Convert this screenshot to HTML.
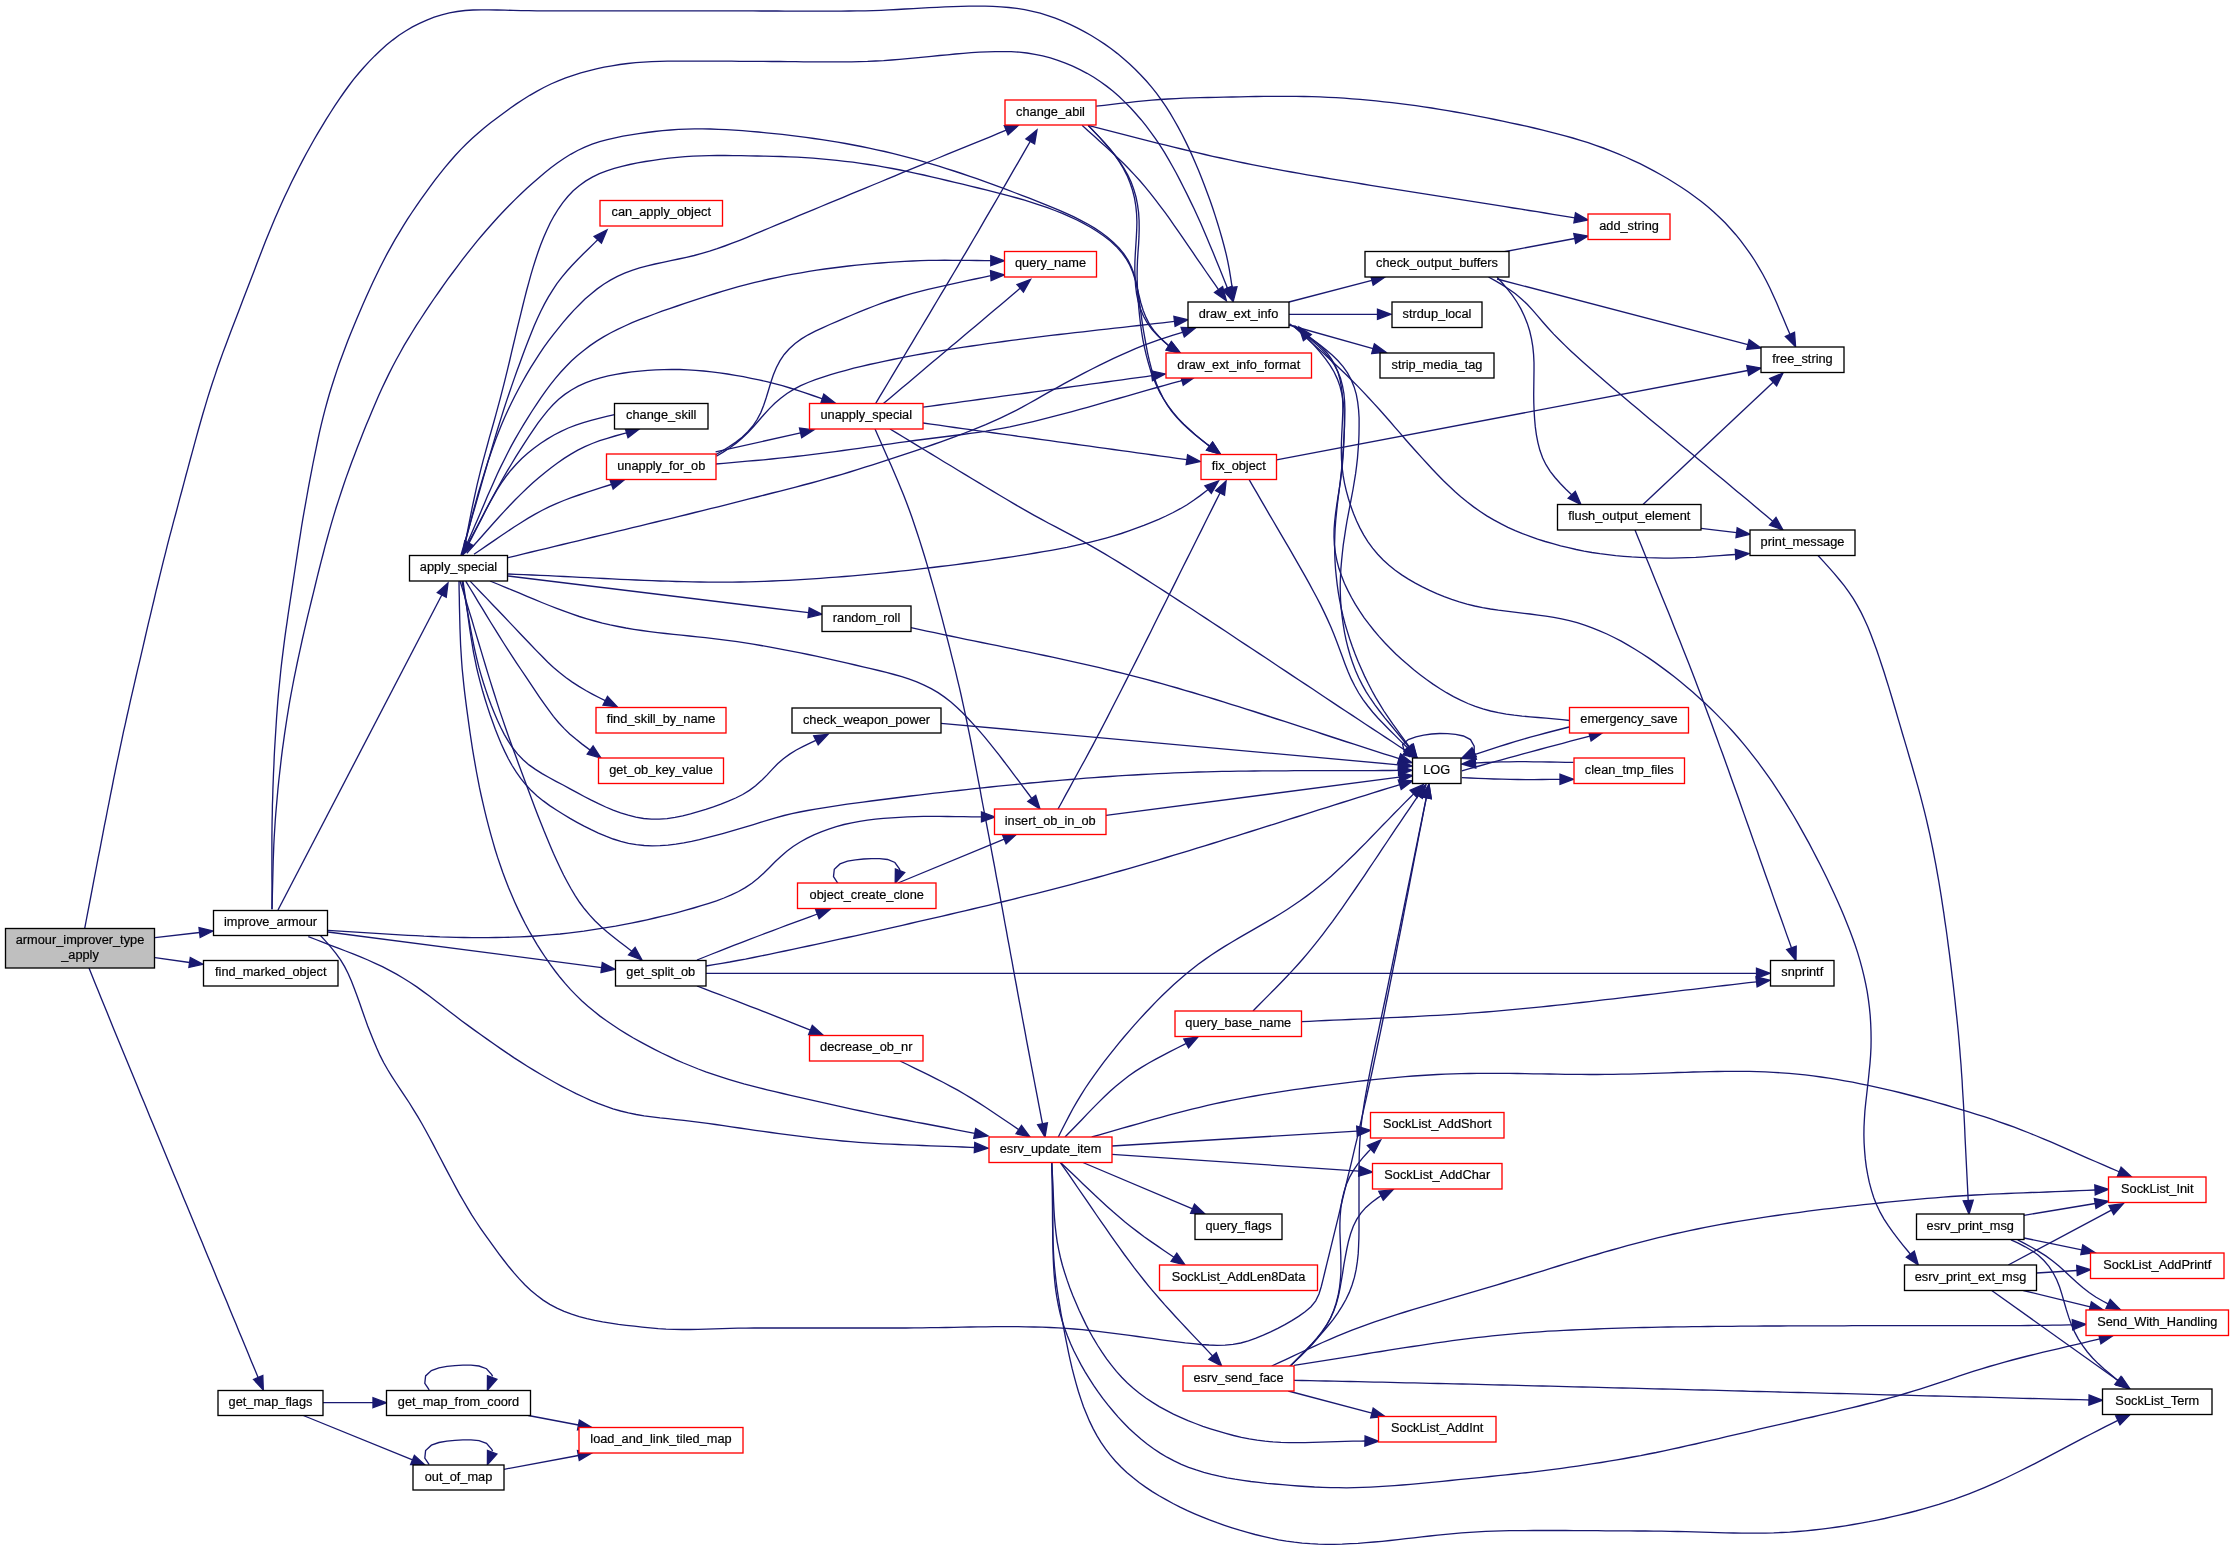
<!DOCTYPE html><html><head><meta charset="utf-8"><style>html,body{margin:0;padding:0;background:#fff;overflow:hidden}svg{display:block}text{font-family:"Liberation Sans",sans-serif;font-size:13.30px;fill:#000;stroke:#000;stroke-width:0.22px}</style></head><body>
<svg xmlns="http://www.w3.org/2000/svg" width="2235" height="1547" viewBox="0 0 2235 1547">
<rect width="2235" height="1547" fill="#fff"/>
<g fill="none" stroke="#191970" stroke-width="1.33">
<path d="M155.0,937.7 L199.6,932.5"/>
<path d="M155.0,957.7 L189.6,962.5"/>
<path d="M89.0,968.0 L92.0,975.4 95.0,982.9 98.0,990.3 101.0,997.7 104.1,1005.2 107.1,1012.6 110.1,1020.0 113.1,1027.4 116.2,1034.9 119.2,1042.3 122.3,1049.7 125.3,1057.1 128.4,1064.5 131.5,1071.9 134.5,1079.3 137.6,1086.8 140.6,1094.2 143.7,1101.6 146.8,1109.0 149.8,1116.4 152.9,1123.8 156.0,1131.2 159.0,1138.6 162.1,1146.0 165.2,1153.4 168.3,1160.9 171.3,1168.3 174.4,1175.7 177.5,1183.1 180.6,1190.5 183.6,1197.9 186.7,1205.3 189.8,1212.7 192.8,1220.1 195.9,1227.5 199.0,1234.9 202.1,1242.3 205.1,1249.7 208.2,1257.2 211.3,1264.6 214.4,1272.0 217.4,1279.4 220.5,1286.8 223.6,1294.2 226.7,1301.6 229.7,1309.0 232.8,1316.4 235.9,1323.8 238.9,1331.2 242.0,1338.6 245.1,1346.0 248.2,1353.5 251.2,1360.9 254.3,1368.3 257.4,1375.7 258.1,1377.5"/>
<path d="M84.7,928.4 L86.2,920.5 87.7,912.7 89.2,904.8 90.7,897.0 92.2,889.1 93.7,881.2 95.2,873.4 96.7,865.5 98.2,857.6 99.8,849.8 101.3,841.9 102.8,834.1 104.3,826.2 105.9,818.4 107.4,810.5 109.0,802.7 110.5,794.8 112.1,787.0 113.6,779.1 115.2,771.3 116.8,763.4 118.5,755.6 120.1,747.8 121.8,739.9 123.4,732.1 125.2,724.3 126.9,716.5 128.7,708.7 130.4,700.9 132.2,693.1 134.0,685.3 135.8,677.5 137.6,669.7 139.5,661.9 141.3,654.1 143.1,646.3 144.9,638.5 146.7,630.7 148.5,622.9 150.4,615.1 152.2,607.3 154.1,599.5 155.9,591.7 157.8,584.0 159.7,576.2 161.6,568.4 163.5,560.6 165.5,552.9 167.4,545.1 169.4,537.4 171.5,529.6 173.5,521.9 175.6,514.2 177.7,506.4 179.7,498.7 181.8,491.0 183.9,483.2 185.9,475.5 188.0,467.8 190.1,460.0 192.2,452.3 194.3,444.6 196.4,436.9 198.5,429.2 200.7,421.5 202.9,413.8 205.2,406.1 207.5,398.4 209.9,390.8 212.3,383.2 214.9,375.6 217.4,368.0 220.1,360.5 222.8,352.9 225.6,345.4 228.4,337.9 231.2,330.5 234.1,323.0 237.0,315.5 239.9,308.1 242.7,300.6 245.6,293.1 248.5,285.6 251.3,278.2 254.2,270.7 257.0,263.2 259.9,255.7 262.8,248.3 265.7,240.8 268.7,233.4 271.8,226.0 274.9,218.6 278.1,211.3 281.3,204.0 284.6,196.7 288.1,189.5 291.5,182.3 295.1,175.1 298.7,168.0 302.4,160.9 306.2,153.8 310.1,146.8 314.0,139.8 318.0,132.9 322.1,126.1 326.3,119.2 330.5,112.5 334.9,105.7 339.3,99.1 343.9,92.5 348.6,86.0 353.4,79.7 358.5,73.5 363.7,67.5 369.1,61.6 374.7,55.9 380.4,50.4 386.4,45.1 392.6,40.1 399.0,35.3 405.6,31.0 412.5,26.9 419.5,23.3 426.8,20.1 434.2,17.2 441.7,14.8 449.4,12.9 457.2,11.5 465.1,10.5 473.0,10.0 481.0,9.8 489.0,9.8 497.0,10.0 505.0,10.2 513.0,10.4 521.0,10.6 529.0,10.7 537.0,10.8 545.0,10.8 553.0,10.8 561.0,10.8 569.0,10.8 577.0,10.8 585.0,10.8 593.0,10.8 601.0,10.8 609.0,10.8 617.0,10.8 625.0,10.8 633.0,10.8 641.0,10.8 649.0,10.8 657.0,10.8 665.0,10.8 673.0,10.8 681.0,10.8 689.0,10.8 697.0,10.8 705.0,10.8 713.0,10.8 721.0,10.8 729.1,10.8 737.1,10.9 745.1,10.9 753.1,10.9 761.1,11.0 769.1,11.0 777.1,11.0 785.1,11.1 793.1,11.1 801.1,11.1 809.1,11.2 817.1,11.2 825.1,11.2 833.1,11.2 841.1,11.1 849.1,11.0 857.1,10.9 865.1,10.8 873.1,10.6 881.1,10.3 889.1,9.9 897.1,9.5 905.1,9.0 913.1,8.6 921.1,8.1 929.1,7.7 937.0,7.3 945.0,6.9 953.0,6.6 961.0,6.3 969.0,6.1 977.0,6.1 985.0,6.2 993.0,6.4 1001.0,6.8 1008.9,7.5 1016.9,8.4 1024.7,9.7 1032.5,11.3 1040.2,13.2 1047.8,15.6 1055.3,18.2 1062.7,21.2 1070.0,24.4 1077.2,27.9 1084.3,31.6 1091.2,35.5 1098.0,39.7 1104.7,44.1 1111.2,48.8 1117.5,53.6 1123.6,58.7 1129.6,64.0 1135.4,69.5 1141.0,75.2 1146.4,81.0 1151.6,87.1 1156.6,93.3 1161.3,99.8 1165.8,106.4 1170.1,113.1 1174.1,120.0 1178.0,126.9 1181.8,134.0 1185.4,141.1 1188.9,148.4 1192.2,155.6 1195.4,162.9 1198.5,170.3 1201.5,177.7 1204.4,185.2 1207.2,192.7 1210.0,200.2 1212.6,207.8 1215.1,215.4 1217.5,223.0 1219.8,230.6 1222.0,238.3 1224.1,246.0 1226.1,253.8 1227.8,261.6 1229.3,269.4 1230.6,277.3 1231.8,285.2 1232.1,287.2"/>
<path d="M272.0,909.3 L272.0,901.3 272.0,893.3 272.0,885.3 271.9,877.3 271.9,869.3 271.9,861.3 271.9,853.3 271.9,845.3 271.9,837.3 272.0,829.3 272.1,821.3 272.3,813.3 272.4,805.3 272.7,797.3 272.9,789.3 273.2,781.3 273.5,773.3 273.9,765.3 274.2,757.3 274.6,749.3 275.1,741.3 275.6,733.3 276.1,725.3 276.6,717.4 277.2,709.4 277.8,701.4 278.5,693.4 279.3,685.5 280.1,677.5 280.9,669.5 281.8,661.6 282.8,653.7 283.8,645.7 284.8,637.8 285.9,629.9 287.1,621.9 288.2,614.0 289.4,606.1 290.6,598.2 291.8,590.3 293.0,582.4 294.2,574.5 295.4,566.5 296.6,558.6 297.8,550.7 299.0,542.8 300.3,534.9 301.5,527.0 302.8,519.1 304.2,511.2 305.6,503.3 307.0,495.5 308.4,487.6 309.9,479.7 311.4,471.9 312.9,464.0 314.5,456.2 316.1,448.3 317.7,440.5 319.4,432.7 321.2,424.9 323.1,417.1 325.1,409.4 327.2,401.7 329.4,394.0 331.8,386.3 334.2,378.7 336.7,371.1 339.3,363.5 342.1,356.0 344.9,348.5 347.7,341.1 350.7,333.6 353.7,326.2 356.8,318.8 359.9,311.5 363.1,304.1 366.3,296.8 369.6,289.5 372.9,282.2 376.4,275.0 379.9,267.8 383.5,260.7 387.2,253.6 391.1,246.6 395.0,239.6 399.1,232.8 403.3,225.9 407.5,219.2 411.9,212.5 416.4,205.9 420.9,199.3 425.6,192.8 430.3,186.3 435.1,179.9 440.0,173.6 445.0,167.4 450.2,161.3 455.4,155.3 460.9,149.4 466.5,143.8 472.3,138.3 478.3,133.0 484.4,127.8 490.6,122.8 497.0,118.0 503.4,113.2 509.8,108.5 516.4,103.9 523.1,99.5 529.8,95.3 536.7,91.3 543.8,87.5 550.9,84.0 558.2,80.8 565.7,77.9 573.2,75.3 580.8,72.9 588.5,70.8 596.3,68.9 604.1,67.2 611.9,65.8 619.8,64.5 627.7,63.5 635.7,62.7 643.6,62.1 651.6,61.6 659.6,61.4 667.6,61.2 675.6,61.2 683.6,61.1 691.6,61.1 699.6,61.1 707.6,61.2 715.6,61.2 723.6,61.2 731.6,61.2 739.6,61.3 747.6,61.3 755.6,61.4 763.6,61.4 771.6,61.5 779.6,61.5 787.6,61.6 795.6,61.7 803.6,61.8 811.6,61.8 819.6,61.9 827.6,61.9 835.6,61.9 843.6,61.9 851.6,61.8 859.6,61.6 867.6,61.4 875.6,61.0 883.6,60.6 891.6,60.0 899.6,59.3 907.5,58.6 915.5,57.8 923.5,57.1 931.4,56.3 939.4,55.5 947.4,54.8 955.3,54.0 963.3,53.3 971.3,52.7 979.3,52.2 987.2,51.8 995.2,51.6 1003.2,51.6 1011.2,51.7 1019.1,52.2 1027.0,53.0 1034.9,54.3 1042.7,55.9 1050.4,57.9 1057.9,60.3 1065.4,63.1 1072.7,66.2 1079.9,69.6 1087.0,73.3 1093.8,77.3 1100.5,81.7 1106.9,86.4 1113.1,91.3 1119.1,96.6 1124.9,102.1 1130.5,107.8 1135.9,113.7 1141.1,119.7 1146.1,125.9 1150.9,132.3 1155.6,138.8 1160.0,145.4 1164.3,152.2 1168.4,159.1 1172.3,166.0 1176.2,173.0 1179.9,180.1 1183.5,187.2 1187.1,194.4 1190.6,201.6 1194.1,208.8 1197.4,216.0 1200.7,223.3 1203.9,230.7 1207.0,238.0 1210.1,245.4 1213.2,252.8 1216.2,260.2 1219.2,267.6 1222.2,275.1 1225.2,282.5 1227.4,288.1"/>
<path d="M272.0,909.3 L272.2,901.3 272.4,893.3 272.6,885.3 272.8,877.3 273.0,869.3 273.2,861.3 273.5,853.3 273.8,845.3 274.2,837.3 274.7,829.3 275.2,821.3 275.8,813.4 276.5,805.4 277.2,797.4 277.9,789.5 278.7,781.5 279.6,773.5 280.5,765.6 281.4,757.6 282.4,749.7 283.5,741.8 284.6,733.8 285.8,725.9 287.0,718.0 288.3,710.1 289.6,702.2 291.0,694.4 292.5,686.5 294.0,678.6 295.6,670.8 297.2,663.0 298.9,655.1 300.6,647.3 302.3,639.5 304.1,631.7 305.9,623.9 307.7,616.1 309.6,608.3 311.5,600.5 313.4,592.8 315.3,585.0 317.2,577.2 319.1,569.5 321.1,561.7 323.1,554.0 325.1,546.2 327.2,538.5 329.3,530.8 331.5,523.1 333.8,515.4 336.1,507.8 338.6,500.1 341.1,492.5 343.6,485.0 346.2,477.4 348.9,469.9 351.7,462.3 354.5,454.9 357.3,447.4 360.3,439.9 363.2,432.5 366.2,425.1 369.3,417.7 372.4,410.3 375.5,402.9 378.7,395.6 382.0,388.3 385.4,381.1 388.9,373.9 392.5,366.7 396.2,359.7 400.1,352.7 404.0,345.7 408.1,338.8 412.3,332.0 416.5,325.2 420.9,318.5 425.2,311.8 429.7,305.1 434.2,298.5 438.8,292.0 443.4,285.4 448.0,278.9 452.8,272.5 457.6,266.1 462.4,259.7 467.3,253.4 472.3,247.1 477.3,240.9 482.5,234.8 487.7,228.7 493.0,222.7 498.4,216.8 503.8,211.0 509.4,205.2 515.0,199.6 520.8,194.0 526.6,188.5 532.5,183.2 538.6,177.9 544.7,172.7 550.9,167.8 557.3,163.0 563.9,158.5 570.6,154.3 577.6,150.5 584.8,147.1 592.1,144.2 599.7,141.7 607.3,139.6 615.1,137.8 622.9,136.2 630.8,134.9 638.7,133.6 646.6,132.5 654.6,131.5 662.5,130.7 670.5,130.0 678.4,129.4 686.4,129.1 694.4,128.9 702.4,128.9 710.4,129.0 718.4,129.3 726.4,129.7 734.4,130.2 742.4,130.7 750.3,131.3 758.3,132.0 766.3,132.8 774.2,133.6 782.2,134.4 790.1,135.3 798.1,136.3 806.0,137.4 813.9,138.5 821.9,139.6 829.8,140.9 837.7,142.2 845.5,143.5 853.4,145.0 861.3,146.5 869.1,148.1 876.9,149.8 884.7,151.5 892.5,153.4 900.3,155.3 908.0,157.3 915.7,159.4 923.4,161.6 931.1,163.9 938.8,166.2 946.4,168.6 954.0,171.0 961.6,173.5 969.2,176.1 976.8,178.7 984.3,181.4 991.9,184.1 999.4,186.8 1006.9,189.6 1014.3,192.5 1021.8,195.3 1029.3,198.2 1036.7,201.2 1044.2,204.1 1051.6,207.1 1058.9,210.2 1066.3,213.4 1073.5,216.7 1080.7,220.3 1087.7,224.0 1094.6,228.1 1101.2,232.5 1107.5,237.2 1113.5,242.4 1119.0,247.9 1123.9,253.9 1128.1,260.4 1131.5,267.3 1134.2,274.6 1136.1,282.2 1137.6,290.0 1138.8,297.8 1139.9,305.7 1141.0,313.7 1142.1,321.6 1143.3,329.5 1144.7,337.4 1146.1,345.2 1147.6,353.1 1149.4,360.9 1151.4,368.6 1153.8,376.2 1156.5,383.7 1159.6,390.9 1163.1,398.0 1167.2,404.8 1171.7,411.3 1176.7,417.4 1182.1,423.1 1187.9,428.6 1193.9,433.8 1200.1,438.8 1206.4,443.7 1209.6,446.1"/>
<path d="M278.0,910.0 L441.8,595.0"/>
<path d="M328.0,930.3 L336.0,930.8 344.0,931.3 352.0,931.8 360.0,932.3 368.0,932.8 376.0,933.3 384.0,933.8 392.0,934.3 400.0,934.8 408.0,935.3 416.0,935.7 424.0,936.2 432.0,936.5 440.0,936.9 448.0,937.1 456.0,937.4 464.0,937.5 472.0,937.6 480.1,937.6 488.1,937.6 496.1,937.5 504.1,937.4 512.1,937.2 520.1,936.9 528.1,936.5 536.1,936.0 544.1,935.4 552.1,934.7 560.1,934.0 568.0,933.1 576.0,932.1 583.9,931.1 591.8,929.9 599.8,928.7 607.7,927.4 615.6,926.1 623.4,924.6 631.3,923.1 639.2,921.5 647.0,919.8 654.8,918.0 662.6,916.2 670.4,914.3 678.1,912.3 685.9,910.2 693.6,908.0 701.3,905.7 708.9,903.3 716.5,900.8 724.0,898.0 731.3,894.9 738.5,891.5 745.3,887.6 751.9,883.2 758.1,878.3 763.9,873.0 769.5,867.5 775.1,861.8 780.8,856.4 786.8,851.2 793.1,846.5 799.8,842.2 806.7,838.4 813.9,834.9 821.2,831.8 828.7,829.1 836.3,826.6 844.0,824.5 851.8,822.8 859.6,821.3 867.5,820.1 875.4,819.2 883.4,818.4 891.4,817.8 899.4,817.3 907.4,816.9 915.4,816.6 923.4,816.4 931.4,816.4 939.4,816.4 947.4,816.5 955.5,816.6 963.5,816.7 971.5,816.8 979.5,816.9 981.5,816.9"/>
<path d="M328.0,932.0 L601.6,967.6"/>
<path d="M308.3,936.6 L315.8,939.5 323.2,942.4 330.7,945.3 338.2,948.2 345.6,951.0 353.1,953.9 360.5,956.9 367.9,960.0 375.2,963.3 382.4,966.7 389.5,970.3 396.5,974.1 403.4,978.2 410.2,982.5 416.8,986.9 423.3,991.6 429.7,996.3 436.1,1001.2 442.4,1006.1 448.8,1011.0 455.1,1015.8 461.5,1020.7 467.9,1025.4 474.4,1030.1 480.9,1034.8 487.4,1039.4 494.0,1044.0 500.6,1048.6 507.2,1053.1 513.8,1057.6 520.5,1061.9 527.3,1066.2 534.1,1070.4 541.0,1074.5 547.9,1078.5 554.9,1082.5 561.9,1086.3 569.0,1090.0 576.1,1093.6 583.4,1097.0 590.6,1100.3 598.0,1103.4 605.5,1106.2 613.0,1108.8 620.7,1111.0 628.4,1112.9 636.2,1114.5 644.1,1115.8 652.0,1116.9 660.0,1117.9 667.9,1118.7 675.9,1119.6 683.8,1120.4 691.8,1121.4 699.7,1122.4 707.7,1123.4 715.6,1124.5 723.5,1125.7 731.4,1126.8 739.4,1128.0 747.3,1129.1 755.2,1130.3 763.1,1131.4 771.1,1132.5 779.0,1133.6 786.9,1134.7 794.9,1135.7 802.8,1136.7 810.8,1137.7 818.7,1138.6 826.7,1139.4 834.6,1140.2 842.6,1141.0 850.6,1141.7 858.6,1142.3 866.5,1142.8 874.5,1143.3 882.5,1143.8 890.5,1144.2 898.5,1144.5 906.5,1144.9 914.5,1145.2 922.5,1145.5 930.5,1145.8 938.5,1146.1 946.5,1146.4 954.5,1146.7 962.5,1147.0 970.5,1147.4 974.5,1147.5"/>
<path d="M320.0,935.0 L325.4,940.9 330.6,946.9 335.7,953.1 340.4,959.6 344.5,966.4 348.1,973.5 351.3,980.8 354.2,988.2 357.0,995.7 359.7,1003.3 362.3,1010.8 365.0,1018.4 367.7,1025.9 370.6,1033.3 373.6,1040.8 376.7,1048.1 380.0,1055.4 383.6,1062.5 387.6,1069.5 391.8,1076.3 396.1,1083.0 400.5,1089.7 405.0,1096.3 409.4,1103.0 413.6,1109.8 417.8,1116.6 421.8,1123.5 425.7,1130.5 429.5,1137.5 433.3,1144.6 437.0,1151.7 440.7,1158.8 444.4,1165.9 448.1,1172.9 451.9,1180.0 455.7,1187.1 459.5,1194.1 463.5,1201.0 467.5,1207.9 471.7,1214.8 476.0,1221.5 480.4,1228.1 485.0,1234.7 489.7,1241.2 494.4,1247.7 499.1,1254.1 504.0,1260.5 508.9,1266.8 514.0,1272.9 519.3,1278.9 524.8,1284.7 530.6,1290.2 536.7,1295.3 543.1,1300.1 549.8,1304.4 556.9,1308.1 564.1,1311.4 571.6,1314.2 579.2,1316.6 586.9,1318.6 594.7,1320.4 602.6,1321.9 610.5,1323.1 618.4,1324.3 626.3,1325.3 634.3,1326.2 642.2,1327.1 650.2,1327.9 658.2,1328.6 666.1,1329.1 674.1,1329.4 682.1,1329.5 690.1,1329.5 698.1,1329.4 706.1,1329.1 714.1,1328.9 722.1,1328.6 730.1,1328.4 738.1,1328.2 746.1,1328.1 754.1,1328.0 762.1,1328.0 770.1,1328.0 778.1,1328.0 786.1,1328.0 794.1,1328.0 802.1,1328.0 810.1,1328.0 818.1,1328.0 826.1,1328.0 834.1,1328.0 842.1,1328.0 850.1,1328.0 858.1,1328.0 866.1,1328.0 874.1,1328.0 882.1,1328.0 890.1,1328.0 898.1,1328.0 906.1,1328.0 914.1,1327.9 922.1,1327.8 930.1,1327.7 938.1,1327.6 946.1,1327.5 954.1,1327.3 962.1,1327.2 970.1,1327.0 978.1,1326.9 986.1,1326.8 994.1,1326.7 1002.1,1326.7 1010.1,1326.7 1018.1,1326.7 1026.1,1326.8 1034.1,1327.0 1042.1,1327.2 1050.1,1327.5 1058.1,1327.9 1066.1,1328.4 1074.1,1329.0 1082.1,1329.7 1090.0,1330.5 1098.0,1331.3 1105.9,1332.3 1113.9,1333.3 1121.8,1334.3 1129.7,1335.4 1137.6,1336.5 1145.6,1337.6 1153.5,1338.7 1161.4,1339.8 1169.3,1340.8 1177.3,1341.9 1185.2,1342.9 1193.2,1343.7 1201.1,1344.5 1209.1,1345.0 1217.1,1345.3 1225.1,1345.2 1233.0,1344.4 1240.8,1343.0 1248.4,1340.8 1256.0,1338.2 1263.3,1335.1 1270.6,1331.8 1277.8,1328.3 1284.9,1324.6 1291.8,1320.6 1298.6,1316.4 1305.1,1311.8 1311.0,1306.7 1315.7,1300.8 1319.0,1294.0 1321.3,1286.5 1323.2,1278.8 1325.1,1271.0 1327.0,1263.2 1328.9,1255.5 1330.8,1247.7 1332.7,1239.9 1334.6,1232.1 1336.5,1224.4 1338.4,1216.6 1340.2,1208.8 1342.1,1201.0 1344.0,1193.3 1345.9,1185.5 1347.7,1177.7 1349.6,1169.9 1351.5,1162.1 1353.3,1154.4 1355.1,1146.6 1357.0,1138.8 1358.8,1131.0 1360.6,1123.2 1362.4,1115.4 1364.1,1107.6 1365.9,1099.8 1367.6,1092.0 1369.4,1084.2 1371.1,1076.3 1372.8,1068.5 1374.4,1060.7 1376.1,1052.9 1377.7,1045.0 1379.4,1037.2 1381.0,1029.4 1382.6,1021.5 1384.2,1013.7 1385.7,1005.8 1387.3,998.0 1388.9,990.2 1390.4,982.3 1392.0,974.5 1393.5,966.6 1395.1,958.8 1396.6,950.9 1398.1,943.0 1399.7,935.2 1401.2,927.3 1402.7,919.5 1404.2,911.6 1405.7,903.8 1407.3,895.9 1408.8,888.1 1410.3,880.2 1411.8,872.3 1413.3,864.5 1414.8,856.6 1416.4,848.8 1417.9,840.9 1419.4,833.1 1421.0,825.2 1422.5,817.4 1424.0,809.5 1425.6,801.7 1426.4,797.7"/>
<path d="M461.0,555.0 L463.3,547.3 465.5,539.6 467.8,531.9 470.0,524.2 472.2,516.5 474.5,508.8 476.7,501.1 478.9,493.3 481.1,485.6 483.3,477.9 485.5,470.2 487.7,462.5 490.0,454.8 492.2,447.1 494.5,439.4 496.8,431.7 499.2,424.0 501.6,416.4 504.0,408.7 506.5,401.1 509.1,393.5 511.7,385.9 514.3,378.4 517.0,370.8 519.8,363.2 522.5,355.7 525.3,348.2 528.2,340.7 531.2,333.3 534.2,325.8 537.4,318.5 540.8,311.3 544.4,304.1 548.3,297.1 552.5,290.3 556.9,283.7 561.7,277.3 566.8,271.2 572.2,265.3 577.7,259.5 583.4,253.8 589.1,248.2 594.8,242.6 597.7,239.8"/>
<path d="M463.0,555.0 L464.5,547.1 466.0,539.3 467.5,531.4 469.0,523.6 470.6,515.7 472.1,507.9 473.8,500.0 475.5,492.2 477.2,484.4 479.1,476.6 481.0,468.8 483.0,461.1 485.1,453.4 487.2,445.7 489.3,437.9 491.5,430.2 493.7,422.5 495.8,414.8 497.9,407.1 500.0,399.4 502.0,391.6 504.0,383.9 505.9,376.1 507.8,368.3 509.7,360.5 511.5,352.7 513.3,345.0 515.2,337.2 517.0,329.4 518.9,321.6 520.8,313.8 522.7,306.0 524.6,298.3 526.6,290.5 528.7,282.8 530.8,275.1 533.1,267.4 535.5,259.8 538.0,252.2 540.7,244.7 543.7,237.3 546.9,230.0 550.3,222.8 554.1,215.8 558.3,209.0 562.8,202.6 567.8,196.5 573.2,190.8 579.2,185.7 585.5,181.1 592.3,177.1 599.4,173.7 606.7,170.8 614.3,168.4 621.9,166.3 629.7,164.5 637.5,162.9 645.4,161.5 653.3,160.3 661.2,159.2 669.2,158.2 677.1,157.4 685.1,156.7 693.1,156.2 701.1,155.8 709.1,155.6 717.1,155.5 725.1,155.5 733.1,155.6 741.1,155.7 749.1,155.8 757.1,156.0 765.1,156.1 773.1,156.3 781.1,156.5 789.1,156.8 797.1,157.2 805.1,157.7 813.0,158.2 821.0,158.8 829.0,159.6 836.9,160.4 844.9,161.3 852.8,162.2 860.8,163.3 868.7,164.5 876.6,165.7 884.5,167.1 892.3,168.5 900.2,170.0 908.0,171.6 915.9,173.3 923.7,175.0 931.5,176.8 939.3,178.7 947.0,180.5 954.8,182.4 962.6,184.2 970.4,186.1 978.2,188.0 986.0,189.9 993.7,191.8 1001.5,193.8 1009.2,195.8 1016.9,198.0 1024.6,200.2 1032.2,202.6 1039.8,205.1 1047.4,207.7 1054.9,210.5 1062.3,213.4 1069.6,216.6 1076.9,220.0 1084.0,223.6 1090.9,227.5 1097.7,231.7 1104.2,236.2 1110.4,241.1 1116.2,246.4 1121.4,252.2 1126.0,258.5 1129.8,265.2 1132.8,272.3 1135.2,279.7 1137.1,287.3 1138.9,295.0 1140.8,302.7 1143.1,310.2 1146.0,317.4 1149.5,324.3 1153.9,330.6 1158.9,336.5 1164.5,341.9 1168.8,345.8"/>
<path d="M462.0,555.0 L464.0,547.2 466.0,539.5 468.0,531.7 470.0,524.0 472.0,516.2 474.0,508.5 476.2,500.7 478.3,493.0 480.6,485.4 482.9,477.7 485.3,470.0 487.7,462.4 490.3,454.8 492.9,447.3 495.6,439.7 498.5,432.3 501.5,424.8 504.6,417.5 507.9,410.2 511.4,403.0 515.0,395.8 518.7,388.7 522.5,381.7 526.5,374.7 530.5,367.9 534.8,361.1 539.1,354.3 543.6,347.7 548.3,341.2 553.1,334.8 558.1,328.6 563.1,322.4 568.4,316.3 573.7,310.4 579.3,304.7 585.0,299.1 591.0,293.9 597.2,288.9 603.7,284.3 610.4,280.1 617.4,276.4 624.6,273.1 632.0,270.3 639.6,267.9 647.3,265.8 655.1,264.0 662.9,262.3 670.8,260.7 678.6,259.0 686.4,257.3 694.2,255.5 701.9,253.4 709.6,251.2 717.2,248.7 724.7,246.0 732.2,243.2 739.7,240.3 747.1,237.3 754.5,234.2 761.9,231.1 769.3,228.0 776.7,224.9 784.0,221.8 791.4,218.8 798.8,215.7 806.2,212.6 813.6,209.6 821.0,206.5 828.4,203.4 835.8,200.4 843.2,197.3 850.6,194.2 858.0,191.2 865.4,188.1 872.8,185.0 880.2,182.0 887.6,178.9 895.0,175.8 902.4,172.7 909.8,169.7 917.2,166.6 924.7,163.6 932.1,160.5 939.5,157.5 946.9,154.4 954.3,151.4 961.7,148.4 969.1,145.4 976.5,142.3 984.0,139.3 991.4,136.3 998.8,133.2 1006.2,130.2"/>
<path d="M462.0,555.0 L465.3,547.7 468.5,540.3 471.7,533.0 474.9,525.6 478.1,518.2 481.2,510.9 484.4,503.5 487.5,496.1 490.8,488.8 494.0,481.4 497.3,474.1 500.7,466.9 504.3,459.7 507.9,452.5 511.6,445.4 515.5,438.4 519.5,431.5 523.6,424.6 527.8,417.8 532.1,411.0 536.5,404.3 541.0,397.6 545.6,391.1 550.4,384.7 555.4,378.4 560.6,372.3 566.0,366.5 571.6,360.8 577.5,355.4 583.7,350.4 590.0,345.6 596.6,341.1 603.5,336.9 610.4,333.0 617.6,329.4 624.8,326.0 632.1,322.7 639.5,319.7 647.0,316.8 654.5,314.0 662.0,311.2 669.6,308.6 677.2,306.0 684.8,303.4 692.4,300.9 700.0,298.4 707.7,295.9 715.3,293.5 723.0,291.2 730.7,288.9 738.4,286.7 746.2,284.7 753.9,282.7 761.7,280.8 769.5,279.0 777.4,277.3 785.2,275.7 793.1,274.2 801.0,272.8 808.9,271.4 816.8,270.2 824.8,269.0 832.7,268.0 840.7,267.0 848.6,266.0 856.6,265.2 864.6,264.4 872.6,263.7 880.6,263.0 888.6,262.4 896.6,261.8 904.6,261.4 912.6,261.0 920.6,260.6 928.6,260.4 936.7,260.3 944.7,260.2 952.7,260.3 960.7,260.3 968.7,260.4 976.8,260.5 984.8,260.6 990.8,260.7"/>
<path d="M462.0,555.0 L465.8,547.9 469.5,540.9 473.3,533.8 477.0,526.7 480.8,519.6 484.5,512.5 488.2,505.4 492.0,498.3 495.8,491.3 499.7,484.3 503.6,477.3 507.6,470.4 511.8,463.5 515.9,456.7 520.2,449.9 524.5,443.1 528.9,436.4 533.3,429.8 537.9,423.2 542.7,416.8 547.7,410.6 553.0,404.8 558.7,399.3 564.8,394.4 571.4,390.0 578.2,386.1 585.4,382.8 592.8,380.1 600.4,377.8 608.2,375.8 616.0,374.3 623.9,373.0 631.8,371.9 639.7,371.1 647.7,370.4 655.7,369.9 663.7,369.6 671.7,369.5 679.7,369.5 687.7,369.8 695.7,370.3 703.7,371.0 711.6,371.8 719.6,372.9 727.5,374.0 735.4,375.3 743.3,376.7 751.1,378.3 759.0,379.9 766.8,381.7 774.5,383.6 782.3,385.7 790.0,388.0 797.6,390.4 805.2,392.9 812.8,395.5 820.4,398.1 822.2,398.8"/>
<path d="M614.5,414.6 L606.7,416.4 598.8,418.3 591.1,420.3 583.4,422.6 575.8,425.1 568.3,428.0 561.1,431.3 554.0,435.0 547.1,439.1 540.4,443.5 533.9,448.2 527.7,453.2 521.8,458.6 516.2,464.3 510.9,470.2 505.9,476.5 501.3,483.1 497.0,489.8 493.0,496.8 489.2,503.8 485.4,510.9 481.8,518.1 478.2,525.3 474.5,532.5 470.8,539.6 469.0,543.2"/>
<path d="M466.8,553.3 L472.1,547.3 477.5,541.3 482.8,535.3 488.1,529.3 493.4,523.3 498.8,517.3 504.2,511.4 509.7,505.5 515.2,499.7 520.9,494.1 526.7,488.5 532.6,483.1 538.7,477.8 544.8,472.7 551.1,467.7 557.5,463.0 564.1,458.4 570.9,454.1 577.8,450.2 584.9,446.7 592.2,443.5 599.7,440.7 607.3,438.3 615.0,436.0 622.7,433.9 626.6,432.8"/>
<path d="M474.0,554.2 L480.7,549.7 487.4,545.1 494.0,540.6 500.7,536.0 507.4,531.5 514.1,527.0 520.9,522.7 527.8,518.4 534.7,514.4 541.8,510.5 549.0,506.9 556.3,503.6 563.8,500.5 571.3,497.7 578.9,495.0 586.6,492.4 594.3,489.9 601.9,487.4 609.6,485.0 611.6,484.4"/>
<path d="M508.0,557.7 L515.8,555.8 523.6,553.9 531.3,552.0 539.1,550.2 546.9,548.3 554.7,546.4 562.5,544.5 570.3,542.7 578.0,540.8 585.8,538.9 593.6,537.0 601.4,535.2 609.2,533.3 617.0,531.4 624.8,529.6 632.5,527.7 640.3,525.8 648.1,523.9 655.9,522.0 663.7,520.2 671.4,518.3 679.2,516.4 687.0,514.5 694.8,512.5 702.6,510.6 710.3,508.7 718.1,506.8 725.9,504.8 733.6,502.9 741.4,500.9 749.1,498.9 756.9,497.0 764.7,495.0 772.4,493.0 780.2,491.1 787.9,489.1 795.7,487.1 803.4,485.0 811.2,483.0 818.9,480.9 826.6,478.7 834.3,476.5 842.0,474.3 849.7,472.0 857.3,469.6 865.0,467.2 872.6,464.8 880.2,462.4 887.8,459.9 895.4,457.4 903.0,454.9 910.6,452.4 918.2,449.8 925.8,447.2 933.3,444.5 940.9,441.8 948.4,439.1 955.9,436.3 963.4,433.5 970.9,430.6 978.3,427.6 985.7,424.6 993.0,421.4 1000.3,418.1 1007.5,414.7 1014.7,411.1 1021.8,407.4 1028.8,403.5 1035.8,399.6 1042.7,395.7 1049.7,391.7 1056.7,387.8 1063.7,383.9 1070.7,380.1 1077.8,376.3 1084.9,372.6 1092.0,369.0 1099.2,365.4 1106.4,361.9 1113.6,358.4 1120.8,355.1 1128.2,351.8 1135.5,348.7 1142.9,345.7 1150.4,342.9 1158.0,340.2 1165.6,337.7 1173.2,335.2 1180.8,332.8 1182.7,332.2"/>
<path d="M508.0,574.0 L516.0,574.3 524.0,574.6 532.0,575.0 540.0,575.3 548.1,575.7 556.1,576.1 564.1,576.5 572.1,576.9 580.1,577.3 588.1,577.7 596.1,578.1 604.1,578.5 612.1,578.9 620.1,579.3 628.2,579.6 636.2,580.0 644.2,580.3 652.2,580.7 660.2,581.0 668.2,581.2 676.2,581.5 684.2,581.7 692.3,581.9 700.3,582.0 708.3,582.1 716.3,582.1 724.3,582.1 732.3,582.1 740.4,582.0 748.4,581.8 756.4,581.6 764.4,581.3 772.4,581.0 780.4,580.7 788.4,580.3 796.5,579.8 804.5,579.4 812.5,578.9 820.5,578.3 828.5,577.7 836.5,577.1 844.4,576.5 852.4,575.8 860.4,575.1 868.4,574.4 876.4,573.6 884.4,572.8 892.3,572.0 900.3,571.1 908.3,570.3 916.3,569.4 924.2,568.4 932.2,567.5 940.2,566.5 948.1,565.6 956.1,564.6 964.0,563.5 972.0,562.5 979.9,561.4 987.9,560.3 995.8,559.2 1003.7,558.0 1011.7,556.8 1019.6,555.6 1027.5,554.3 1035.4,553.0 1043.3,551.7 1051.2,550.3 1059.1,548.8 1067.0,547.3 1074.8,545.6 1082.6,543.9 1090.4,542.1 1098.2,540.2 1106.0,538.1 1113.6,535.9 1121.3,533.5 1128.9,530.9 1136.4,528.2 1143.9,525.4 1151.4,522.4 1158.7,519.3 1166.0,516.0 1173.2,512.5 1180.3,508.7 1187.1,504.7 1193.7,500.3 1200.2,495.6 1206.5,490.8 1208.1,489.5"/>
<path d="M508.0,576.0 L808.6,612.7"/>
<path d="M490.0,581.0 L497.4,584.0 504.8,587.1 512.2,590.1 519.6,593.2 527.0,596.3 534.4,599.4 541.8,602.5 549.3,605.5 556.7,608.4 564.2,611.2 571.8,613.9 579.3,616.5 587.0,618.8 594.7,621.0 602.4,623.1 610.2,624.9 618.1,626.5 625.9,628.0 633.8,629.3 641.8,630.5 649.7,631.6 657.6,632.6 665.6,633.5 673.6,634.4 681.5,635.2 689.5,636.0 697.5,636.9 705.4,637.7 713.4,638.6 721.4,639.6 729.3,640.6 737.2,641.7 745.2,642.9 753.1,644.2 761.0,645.5 768.9,646.9 776.8,648.4 784.6,649.8 792.5,651.3 800.4,652.9 808.2,654.5 816.1,656.2 823.9,657.9 831.7,659.6 839.5,661.4 847.3,663.2 855.2,665.0 863.0,666.8 870.8,668.6 878.6,670.5 886.3,672.4 894.1,674.5 901.8,676.7 909.4,679.2 916.8,681.9 924.1,685.1 931.2,688.6 938.1,692.6 944.6,697.1 950.9,701.9 956.8,707.2 962.6,712.7 968.1,718.5 973.5,724.4 978.9,730.4 984.1,736.4 989.2,742.6 994.2,748.8 999.2,755.1 1004.0,761.5 1008.9,767.9 1013.7,774.3 1018.5,780.7 1023.3,787.1 1028.1,793.5 1031.7,798.3"/>
<path d="M470.1,581.1 L475.6,586.9 481.2,592.7 486.7,598.4 492.2,604.2 497.8,610.0 503.3,615.8 508.8,621.6 514.3,627.4 519.8,633.2 525.3,639.0 530.8,644.8 536.4,650.6 542.0,656.3 547.6,661.9 553.5,667.4 559.5,672.5 565.8,677.5 572.3,682.1 578.9,686.4 585.8,690.5 592.8,694.3 599.9,698.0 605.2,700.7"/>
<path d="M465.7,581.1 L469.9,588.0 474.1,594.9 478.2,601.8 482.4,608.7 486.6,615.6 490.8,622.5 495.1,629.3 499.3,636.2 503.6,643.0 508.0,649.8 512.4,656.6 516.8,663.3 521.3,670.0 525.8,676.7 530.3,683.4 534.8,690.1 539.3,696.8 543.9,703.4 548.6,709.9 553.4,716.3 558.5,722.5 564.0,728.4 569.7,733.9 575.8,739.1 582.1,744.1 588.5,748.9 590.2,750.1"/>
<path d="M462.0,581.0 L463.4,588.9 464.9,596.8 466.3,604.6 467.7,612.5 469.1,620.4 470.5,628.3 472.0,636.2 473.5,644.0 475.2,651.9 477.0,659.7 478.9,667.4 481.1,675.1 483.4,682.8 485.9,690.4 488.5,698.0 491.3,705.5 494.3,712.9 497.4,720.2 500.8,727.5 504.4,734.6 508.4,741.4 512.8,748.0 517.7,754.1 523.1,759.8 529.0,764.9 535.4,769.4 542.1,773.6 549.0,777.5 556.0,781.3 563.1,785.0 570.1,788.9 577.1,792.7 584.2,796.5 591.3,800.2 598.5,803.7 605.7,807.0 613.1,810.1 620.6,812.8 628.2,815.2 635.8,817.1 643.6,818.5 651.4,819.2 659.3,819.2 667.1,818.6 675.0,817.4 682.7,815.8 690.5,813.8 698.2,811.6 705.8,809.3 713.4,806.8 720.9,804.1 728.4,801.2 735.7,798.0 742.7,794.5 749.4,790.4 755.6,785.8 761.4,780.6 766.9,775.1 772.2,769.4 777.6,763.8 783.4,758.7 789.7,754.1 796.3,750.0 803.3,746.3 810.5,742.9 815.9,740.3"/>
<path d="M463.0,581.0 L464.1,588.9 465.3,596.9 466.4,604.8 467.5,612.7 468.6,620.7 469.7,628.6 470.9,636.5 472.2,644.4 473.5,652.3 475.1,660.2 476.7,668.0 478.6,675.8 480.6,683.6 482.7,691.3 485.0,699.0 487.4,706.6 489.9,714.2 492.6,721.8 495.3,729.3 498.3,736.7 501.3,744.1 504.7,751.4 508.2,758.5 512.1,765.5 516.3,772.2 520.9,778.7 525.9,784.8 531.3,790.6 537.1,795.9 543.3,800.9 549.7,805.6 556.4,810.0 563.2,814.3 570.0,818.4 577.0,822.3 584.1,826.1 591.2,829.7 598.4,833.1 605.8,836.2 613.2,839.0 620.8,841.3 628.5,843.3 636.3,844.7 644.2,845.5 652.1,845.9 660.0,845.7 668.0,845.1 675.9,844.1 683.8,842.8 691.6,841.3 699.4,839.6 707.2,837.7 715.0,835.7 722.7,833.6 730.4,831.4 738.1,829.2 745.8,826.9 753.5,824.6 761.1,822.2 768.7,819.9 776.4,817.6 784.1,815.5 791.9,813.7 799.7,812.0 807.6,810.5 815.5,809.1 823.4,807.8 831.3,806.6 839.2,805.4 847.2,804.2 855.1,803.1 863.0,802.1 871.0,801.0 878.9,800.0 886.9,799.0 894.8,798.0 902.8,797.0 910.7,796.0 918.7,795.1 926.7,794.1 934.6,793.2 942.6,792.3 950.5,791.4 958.5,790.5 966.5,789.6 974.4,788.7 982.4,787.9 990.4,787.0 998.3,786.2 1006.3,785.4 1014.3,784.6 1022.3,783.8 1030.2,783.0 1038.2,782.3 1046.2,781.5 1054.2,780.8 1062.2,780.1 1070.2,779.5 1078.1,778.8 1086.1,778.2 1094.1,777.6 1102.1,777.0 1110.1,776.5 1118.1,775.9 1126.1,775.4 1134.1,775.0 1142.1,774.5 1150.1,774.1 1158.1,773.7 1166.1,773.3 1174.1,772.9 1182.1,772.6 1190.1,772.3 1198.2,772.0 1206.2,771.8 1214.2,771.6 1222.2,771.4 1230.2,771.3 1238.2,771.2 1246.2,771.1 1254.2,771.0 1262.3,770.9 1270.3,770.8 1278.3,770.8 1286.3,770.8 1294.3,770.7 1302.3,770.7 1310.3,770.7 1318.4,770.7 1326.4,770.7 1334.4,770.7 1342.4,770.7 1350.4,770.7 1358.4,770.7 1366.4,770.6 1374.5,770.6 1382.5,770.5 1390.5,770.5 1398.5,770.4"/>
<path d="M460.0,581.0 L462.4,588.6 464.7,596.3 467.0,604.0 469.3,611.6 471.7,619.3 473.9,626.9 476.2,634.6 478.5,642.3 480.8,649.9 483.1,657.6 485.4,665.3 487.7,672.9 490.1,680.6 492.5,688.2 494.9,695.8 497.3,703.4 499.8,711.1 502.4,718.6 505.0,726.2 507.6,733.8 510.3,741.3 513.0,748.8 515.8,756.3 518.5,763.8 521.3,771.3 524.1,778.8 526.9,786.3 529.7,793.8 532.5,801.3 535.3,808.8 538.2,816.3 541.2,823.7 544.1,831.1 547.2,838.5 550.3,845.9 553.4,853.3 556.7,860.5 560.1,867.8 563.6,875.0 567.3,882.0 571.2,889.0 575.3,895.8 579.7,902.5 584.4,908.8 589.5,914.9 594.9,920.7 600.7,926.2 606.6,931.5 612.8,936.5 619.1,941.4 625.4,946.3 631.8,951.2"/>
<path d="M459.0,581.0 L459.1,589.0 459.3,597.0 459.4,605.0 459.6,613.0 459.8,621.0 460.0,629.0 460.3,637.0 460.6,645.0 461.1,653.0 461.6,661.0 462.2,669.0 463.0,676.9 463.8,684.9 464.7,692.8 465.7,700.8 466.7,708.7 467.8,716.7 468.9,724.6 470.0,732.5 471.2,740.4 472.4,748.3 473.7,756.2 475.1,764.1 476.5,772.0 478.0,779.9 479.5,787.7 481.2,795.5 483.0,803.3 484.8,811.1 486.7,818.9 488.7,826.6 490.8,834.4 493.0,842.1 495.2,849.7 497.6,857.4 500.2,865.0 502.8,872.5 505.6,880.0 508.5,887.4 511.6,894.8 514.8,902.2 518.1,909.4 521.6,916.6 525.2,923.7 529.0,930.8 533.0,937.7 537.1,944.6 541.4,951.3 545.8,958.0 550.4,964.6 555.1,971.0 560.0,977.3 565.1,983.4 570.4,989.4 576.0,995.1 581.7,1000.7 587.6,1006.0 593.7,1011.1 600.0,1016.1 606.5,1020.8 613.1,1025.3 619.8,1029.7 626.5,1033.9 633.4,1038.0 640.4,1041.9 647.4,1045.7 654.5,1049.4 661.7,1053.0 668.9,1056.4 676.2,1059.8 683.5,1063.0 690.9,1066.0 698.3,1069.0 705.8,1071.8 713.3,1074.4 720.9,1076.9 728.6,1079.3 736.2,1081.6 743.9,1083.8 751.7,1085.8 759.4,1087.8 767.2,1089.8 775.0,1091.7 782.8,1093.5 790.6,1095.3 798.4,1097.1 806.2,1098.8 814.0,1100.6 821.8,1102.3 829.6,1104.1 837.4,1105.8 845.2,1107.6 853.0,1109.3 860.9,1111.0 868.7,1112.7 876.5,1114.3 884.4,1115.9 892.2,1117.5 900.1,1119.0 907.9,1120.5 915.8,1122.1 923.7,1123.5 931.5,1125.0 939.4,1126.5 947.3,1128.0 955.1,1129.6 963.0,1131.1 970.8,1132.6 974.8,1133.4"/>
<path d="M697.0,960.0 L704.5,957.0 712.0,954.0 719.4,951.1 726.9,948.1 734.4,945.2 741.9,942.3 749.5,939.4 757.0,936.5 764.5,933.7 772.1,930.8 779.6,928.0 787.1,925.2 794.7,922.4 802.3,919.6 809.8,916.8 817.4,914.0"/>
<path d="M706.0,966.0 L713.9,964.7 721.8,963.3 729.7,962.0 737.6,960.5 745.5,959.1 753.4,957.5 761.2,955.9 769.1,954.3 776.9,952.7 784.8,951.0 792.6,949.4 800.5,947.7 808.3,946.0 816.1,944.3 824.0,942.6 831.8,940.9 839.6,939.2 847.5,937.5 855.3,935.8 863.1,934.1 871.0,932.3 878.8,930.6 886.6,928.8 894.4,927.1 902.3,925.3 910.1,923.5 917.9,921.7 925.7,919.9 933.5,918.1 941.4,916.3 949.2,914.5 957.0,912.7 964.8,910.8 972.6,909.0 980.4,907.1 988.2,905.3 996.0,903.4 1003.8,901.5 1011.6,899.6 1019.3,897.7 1027.1,895.7 1034.9,893.8 1042.7,891.8 1050.5,889.8 1058.2,887.8 1066.0,885.8 1073.7,883.8 1081.5,881.7 1089.2,879.6 1097.0,877.5 1104.7,875.4 1112.4,873.2 1120.1,871.0 1127.8,868.8 1135.5,866.6 1143.2,864.3 1150.9,862.1 1158.6,859.8 1166.3,857.5 1174.0,855.2 1181.7,852.9 1189.3,850.6 1197.0,848.2 1204.7,845.9 1212.3,843.5 1220.0,841.1 1227.6,838.7 1235.3,836.3 1243.0,833.9 1250.6,831.5 1258.2,829.1 1265.9,826.7 1273.5,824.3 1281.2,821.8 1288.8,819.4 1296.5,817.0 1304.1,814.6 1311.8,812.1 1319.4,809.7 1327.1,807.3 1334.7,804.9 1342.3,802.5 1350.0,800.1 1357.7,797.7 1365.3,795.3 1373.0,792.9 1380.6,790.5 1388.3,788.2 1396.0,785.8 1399.8,784.6"/>
<path d="M706.0,973.3 L1756.5,973.3"/>
<path d="M697.0,986.0 L704.6,988.9 712.2,991.8 719.8,994.6 727.3,997.5 734.9,1000.4 742.5,1003.4 750.0,1006.3 757.6,1009.2 765.2,1012.2 772.7,1015.2 780.3,1018.1 787.8,1021.1 795.3,1024.1 802.9,1027.1 810.4,1030.1"/>
<path d="M715.6,451.9 L800.6,432.9"/>
<path d="M715.6,464.0 L723.6,463.3 731.6,462.6 739.6,461.9 747.5,461.2 755.5,460.5 763.5,459.8 771.5,459.0 779.5,458.2 787.4,457.4 795.4,456.5 803.4,455.6 811.3,454.7 819.3,453.7 827.2,452.7 835.2,451.6 843.1,450.5 851.1,449.4 859.0,448.3 867.0,447.2 874.9,446.1 882.8,444.9 890.8,443.8 898.7,442.7 906.6,441.6 914.6,440.5 922.5,439.5 930.5,438.5 938.4,437.5 946.4,436.5 954.4,435.5 962.3,434.5 970.2,433.4 978.2,432.3 986.1,431.1 994.0,429.7 1001.9,428.3 1009.8,426.8 1017.6,425.1 1025.4,423.4 1033.2,421.6 1041.0,419.7 1048.8,417.7 1056.5,415.7 1064.3,413.7 1072.0,411.6 1079.8,409.4 1087.5,407.3 1095.2,405.1 1102.9,402.9 1110.6,400.7 1118.3,398.5 1126.0,396.3 1133.7,394.1 1141.4,391.9 1149.2,389.7 1156.9,387.5 1164.6,385.4 1172.3,383.2 1180.0,381.1 1182.0,380.5"/>
<path d="M715.6,454.8 L722.5,450.7 729.3,446.5 735.9,442.1 742.1,437.2 747.8,431.8 752.8,426.0 757.1,419.5 760.8,412.6 763.7,405.3 766.2,397.8 768.5,390.2 770.8,382.5 773.3,375.0 776.3,367.8 779.9,360.9 784.2,354.5 789.3,348.7 795.1,343.5 801.4,338.9 808.2,334.8 815.3,331.2 822.5,327.8 829.8,324.5 837.2,321.3 844.6,318.2 852.0,315.0 859.4,311.9 866.9,308.9 874.3,306.0 881.9,303.2 889.4,300.5 897.1,298.0 904.7,295.6 912.5,293.4 920.2,291.4 928.0,289.4 935.8,287.6 943.7,285.8 951.5,284.1 959.4,282.4 967.2,280.7 975.1,279.0 983.0,277.3 990.8,275.6"/>
<path d="M716.4,456.2 L723.2,452.1 729.9,447.7 736.2,443.1 742.3,438.1 748.0,432.6 753.4,426.8 758.6,420.8 763.8,414.8 769.2,408.9 774.8,403.3 780.7,398.2 787.0,393.5 793.7,389.4 800.7,385.7 808.0,382.5 815.4,379.7 823.0,377.1 830.6,374.6 838.3,372.4 846.0,370.3 853.7,368.2 861.5,366.3 869.3,364.5 877.1,362.8 885.0,361.1 892.8,359.5 900.7,357.9 908.5,356.4 916.4,354.9 924.3,353.5 932.2,352.2 940.1,350.9 948.0,349.6 955.9,348.3 963.8,347.1 971.7,346.0 979.7,344.8 987.6,343.7 995.5,342.6 1003.5,341.5 1011.4,340.4 1019.3,339.4 1027.3,338.4 1035.2,337.4 1043.2,336.4 1051.1,335.4 1059.1,334.5 1067.1,333.6 1075.0,332.7 1083.0,331.8 1090.9,330.8 1098.9,329.9 1106.8,329.1 1114.8,328.2 1122.8,327.3 1130.7,326.4 1138.7,325.5 1146.6,324.6 1154.6,323.7 1162.6,322.8 1170.5,321.8 1174.5,321.4"/>
<path d="M875.6,403.6 L879.7,396.7 883.8,389.9 887.9,383.0 892.0,376.1 896.2,369.2 900.3,362.4 904.4,355.5 908.5,348.6 912.6,341.8 916.7,334.9 920.9,328.0 925.0,321.1 929.1,314.3 933.2,307.4 937.3,300.5 941.4,293.6 945.5,286.8 949.6,279.9 953.7,273.0 957.8,266.1 961.8,259.2 965.9,252.3 970.0,245.4 974.0,238.5 978.1,231.6 982.1,224.7 986.1,217.7 990.1,210.8 994.2,203.9 998.2,197.0 1002.2,190.0 1006.2,183.1 1010.2,176.2 1014.2,169.2 1018.2,162.3 1022.2,155.3 1026.2,148.4 1030.2,141.5"/>
<path d="M883.4,403.6 L889.5,398.4 895.7,393.2 901.8,388.1 908.0,382.9 914.1,377.7 920.3,372.5 926.4,367.3 932.6,362.1 938.7,357.0 944.9,351.8 951.0,346.6 957.2,341.4 963.3,336.2 969.5,331.1 975.6,325.9 981.8,320.7 987.9,315.5 994.1,310.3 1000.2,305.2 1006.4,300.0 1012.5,294.8 1018.6,289.6 1020.2,288.3"/>
<path d="M923.0,407.2 L931.0,406.1 938.9,405.0 946.9,403.9 954.8,402.8 962.8,401.7 970.8,400.6 978.7,399.5 986.7,398.4 994.6,397.3 1002.6,396.2 1010.5,395.1 1018.5,394.1 1026.5,393.0 1034.4,391.9 1042.4,390.8 1050.3,389.7 1058.3,388.6 1066.3,387.5 1074.2,386.4 1082.2,385.3 1090.1,384.2 1098.1,383.1 1106.1,382.0 1114.0,380.9 1122.0,379.8 1129.9,378.7 1137.9,377.7 1145.9,376.6 1151.8,375.7"/>
<path d="M923.0,423.0 L930.9,424.1 938.9,425.2 946.8,426.3 954.7,427.5 962.7,428.6 970.6,429.7 978.6,430.8 986.5,431.9 994.4,433.0 1002.4,434.1 1010.3,435.2 1018.2,436.3 1026.2,437.4 1034.1,438.5 1042.1,439.6 1050.0,440.7 1057.9,441.8 1065.9,442.9 1073.8,444.0 1081.7,445.1 1089.7,446.2 1097.6,447.3 1105.6,448.4 1113.5,449.5 1121.4,450.6 1129.4,451.7 1137.3,452.8 1145.3,453.9 1153.2,455.0 1161.1,456.1 1169.1,457.2 1177.0,458.3 1184.9,459.4 1186.9,459.7"/>
<path d="M890.0,429.0 L896.9,433.1 903.7,437.3 910.5,441.4 917.4,445.6 924.2,449.7 931.1,453.9 937.9,458.0 944.7,462.2 951.6,466.3 958.4,470.5 965.3,474.6 972.1,478.8 979.0,482.9 985.8,487.0 992.7,491.1 999.6,495.2 1006.4,499.3 1013.3,503.4 1020.2,507.4 1027.2,511.4 1034.2,515.3 1041.2,519.2 1048.2,523.0 1055.3,526.7 1062.3,530.4 1069.4,534.2 1076.5,537.9 1083.5,541.7 1090.5,545.6 1097.5,549.6 1104.4,553.6 1111.2,557.7 1118.1,561.9 1124.9,566.1 1131.6,570.3 1138.4,574.6 1145.2,578.9 1151.9,583.2 1158.6,587.5 1165.4,591.9 1172.1,596.2 1178.8,600.6 1185.5,605.0 1192.2,609.3 1198.9,613.7 1205.6,618.1 1212.2,622.5 1218.9,626.9 1225.6,631.3 1232.3,635.7 1238.9,640.2 1245.6,644.6 1252.3,649.0 1258.9,653.4 1265.6,657.8 1272.3,662.3 1278.9,666.7 1285.6,671.1 1292.3,675.6 1298.9,680.0 1305.6,684.4 1312.3,688.8 1318.9,693.3 1325.6,697.7 1332.2,702.1 1338.9,706.6 1345.6,711.0 1352.3,715.4 1358.9,719.8 1365.6,724.2 1372.3,728.6 1379.0,733.0 1385.6,737.4 1392.3,741.8 1399.0,746.2 1405.7,750.6"/>
<path d="M875.0,429.0 L878.2,436.3 881.5,443.7 884.7,451.0 887.9,458.3 891.2,465.6 894.4,473.0 897.5,480.3 900.6,487.7 903.6,495.1 906.5,502.6 909.3,510.1 912.0,517.6 914.6,525.2 917.1,532.8 919.6,540.4 922.0,548.0 924.4,555.7 926.7,563.4 928.9,571.0 931.1,578.7 933.3,586.4 935.5,594.1 937.6,601.9 939.7,609.6 941.8,617.3 943.8,625.1 945.8,632.8 947.8,640.6 949.8,648.3 951.7,656.1 953.7,663.9 955.6,671.7 957.4,679.4 959.3,687.2 961.1,695.0 962.8,702.8 964.5,710.7 966.2,718.5 967.8,726.3 969.4,734.2 971.0,742.0 972.5,749.9 974.0,757.8 975.5,765.6 977.0,773.5 978.5,781.4 980.0,789.2 981.4,797.1 982.9,805.0 984.4,812.8 985.9,820.7 987.4,828.6 988.9,836.4 990.4,844.3 991.8,852.2 993.3,860.0 994.8,867.9 996.2,875.8 997.7,883.7 999.2,891.5 1000.6,899.4 1002.1,907.3 1003.5,915.2 1004.9,923.0 1006.4,930.9 1007.8,938.8 1009.3,946.7 1010.7,954.5 1012.2,962.4 1013.6,970.3 1015.0,978.2 1016.5,986.0 1017.9,993.9 1019.4,1001.8 1020.9,1009.7 1022.3,1017.5 1023.8,1025.4 1025.3,1033.3 1026.7,1041.2 1028.2,1049.0 1029.7,1056.9 1031.2,1064.8 1032.7,1072.6 1034.2,1080.5 1035.7,1088.3 1037.2,1096.2 1038.7,1104.1 1040.2,1111.9 1041.7,1119.8 1042.5,1123.7"/>
<path d="M1082.1,125.3 L1088.0,130.7 1094.0,136.1 1099.9,141.4 1105.9,146.8 1111.8,152.3 1117.6,157.8 1123.4,163.3 1129.0,169.0 1134.5,174.9 1139.9,180.8 1145.1,186.9 1150.2,193.1 1155.1,199.4 1160.0,205.8 1164.8,212.2 1169.5,218.7 1174.1,225.3 1178.7,231.8 1183.2,238.4 1187.8,245.1 1192.3,251.7 1196.8,258.3 1201.4,264.9 1205.9,271.5 1210.5,278.1 1215.1,284.7 1218.5,289.6"/>
<path d="M1096.1,106.2 L1104.1,105.3 1112.0,104.4 1120.0,103.4 1128.0,102.6 1135.9,101.7 1143.9,100.9 1151.9,100.2 1159.9,99.5 1167.9,99.0 1175.9,98.6 1183.9,98.2 1191.9,97.9 1199.9,97.7 1207.9,97.5 1215.9,97.3 1223.9,97.1 1232.0,97.0 1240.0,96.8 1248.0,96.6 1256.0,96.5 1264.0,96.4 1272.0,96.3 1280.1,96.3 1288.1,96.3 1296.1,96.4 1304.1,96.5 1312.1,96.7 1320.1,96.9 1328.1,97.3 1336.1,97.7 1344.1,98.2 1352.1,98.8 1360.1,99.4 1368.1,100.1 1376.1,100.9 1384.1,101.8 1392.0,102.7 1400.0,103.6 1407.9,104.6 1415.9,105.7 1423.8,106.9 1431.7,108.0 1439.7,109.3 1447.6,110.6 1455.5,112.0 1463.4,113.4 1471.2,114.9 1479.1,116.4 1487.0,117.9 1494.8,119.5 1502.7,121.1 1510.5,122.8 1518.4,124.5 1526.2,126.2 1534.0,128.0 1541.8,129.8 1549.6,131.8 1557.4,133.8 1565.1,135.8 1572.8,138.0 1580.5,140.3 1588.1,142.7 1595.7,145.3 1603.3,148.0 1610.7,150.8 1618.2,153.8 1625.5,157.0 1632.8,160.3 1640.0,163.7 1647.2,167.3 1654.3,171.1 1661.3,175.0 1668.2,179.0 1675.0,183.2 1681.7,187.5 1688.4,192.0 1694.9,196.7 1701.3,201.5 1707.5,206.5 1713.5,211.8 1719.4,217.2 1725.1,222.8 1730.5,228.7 1735.8,234.7 1740.8,240.9 1745.6,247.3 1750.3,253.8 1754.7,260.5 1758.8,267.3 1762.8,274.2 1766.5,281.3 1770.1,288.5 1773.4,295.7 1776.7,303.1 1779.8,310.4 1783.0,317.8 1786.1,325.2 1789.2,332.6 1790.0,334.4"/>
<path d="M1088.1,125.3 L1095.9,127.3 1103.6,129.3 1111.4,131.3 1119.2,133.4 1127.0,135.4 1134.7,137.4 1142.5,139.3 1150.3,141.3 1158.1,143.3 1165.9,145.2 1173.7,147.1 1181.5,149.0 1189.3,150.8 1197.1,152.7 1204.9,154.5 1212.7,156.3 1220.6,158.0 1228.4,159.7 1236.2,161.4 1244.1,163.0 1252.0,164.6 1259.8,166.2 1267.7,167.7 1275.6,169.2 1283.5,170.6 1291.4,172.0 1299.3,173.4 1307.2,174.8 1315.1,176.1 1323.1,177.5 1331.0,178.8 1338.9,180.1 1346.8,181.4 1354.7,182.7 1362.6,184.0 1370.6,185.3 1378.5,186.6 1386.4,187.9 1394.3,189.1 1402.3,190.4 1410.2,191.7 1418.1,192.9 1426.1,194.2 1434.0,195.4 1441.9,196.7 1449.8,197.9 1457.8,199.2 1465.7,200.4 1473.6,201.7 1481.5,202.9 1489.5,204.2 1497.4,205.4 1505.3,206.7 1513.3,208.0 1521.2,209.2 1529.1,210.5 1537.0,211.7 1545.0,213.0 1552.9,214.3 1560.8,215.6 1568.7,216.9 1574.7,217.8"/>
<path d="M1088.1,125.3 L1093.7,131.1 1099.2,136.9 1104.6,142.9 1109.8,148.9 1114.8,155.2 1119.4,161.8 1123.5,168.6 1127.1,175.6 1130.1,183.0 1132.6,190.5 1134.5,198.2 1135.8,206.0 1136.6,213.9 1136.9,221.9 1136.7,229.9 1136.3,237.9 1135.8,245.9 1135.3,253.9 1134.9,261.9 1134.8,270.0 1135.1,278.0 1135.6,285.9 1136.6,293.8 1138.2,301.6 1140.5,309.1 1143.5,316.2 1147.3,323.0 1151.9,329.3 1157.1,335.1 1162.9,340.6 1168.8,345.8"/>
<path d="M1088.1,125.3 L1093.6,131.1 1099.1,136.9 1104.5,142.8 1109.8,148.8 1114.8,155.0 1119.5,161.4 1123.8,168.0 1127.7,174.9 1131.1,182.0 1133.8,189.4 1136.0,197.0 1137.5,204.7 1138.6,212.6 1139.1,220.5 1139.2,228.4 1139.0,236.4 1138.6,244.4 1138.0,252.3 1137.5,260.3 1137.2,268.3 1137.1,276.2 1137.3,284.2 1137.7,292.2 1138.2,300.2 1138.8,308.1 1139.6,316.1 1140.5,324.0 1141.6,331.9 1142.9,339.8 1144.5,347.6 1146.3,355.4 1148.4,363.1 1150.7,370.7 1153.4,378.2 1156.5,385.6 1159.9,392.7 1163.9,399.5 1168.3,406.1 1173.1,412.4 1178.2,418.4 1183.8,424.2 1189.6,429.6 1195.6,434.9 1201.7,439.9 1208.0,444.9 1209.6,446.1"/>
<path d="M1289.0,302.0 L1371.9,280.4"/>
<path d="M1289.0,314.3 L1377.5,314.3"/>
<path d="M1289.0,325.0 L1373.0,348.6"/>
<path d="M1293.0,325.7 L1298.9,331.1 1304.9,336.5 1310.8,341.9 1316.7,347.2 1322.6,352.6 1328.5,358.1 1334.4,363.5 1340.2,369.0 1346.0,374.6 1351.7,380.2 1357.4,385.9 1362.9,391.6 1368.4,397.5 1373.8,403.4 1379.2,409.3 1384.5,415.3 1389.8,421.3 1395.0,427.4 1400.3,433.4 1405.5,439.5 1410.8,445.5 1416.2,451.5 1421.5,457.4 1426.9,463.3 1432.4,469.2 1437.9,475.0 1443.5,480.7 1449.3,486.2 1455.1,491.7 1461.1,497.0 1467.3,502.1 1473.6,506.9 1480.2,511.5 1486.8,515.9 1493.7,519.9 1500.7,523.7 1507.9,527.3 1515.2,530.6 1522.5,533.6 1530.0,536.4 1537.6,539.1 1545.2,541.5 1552.9,543.7 1560.6,545.8 1568.4,547.7 1576.2,549.5 1584.0,551.1 1591.9,552.5 1599.8,553.7 1607.7,554.7 1615.7,555.6 1623.7,556.3 1631.7,556.9 1639.6,557.3 1647.7,557.7 1655.7,557.9 1663.7,558.1 1671.7,558.1 1679.7,557.9 1687.7,557.6 1695.7,557.3 1703.7,556.8 1711.7,556.2 1719.6,555.6 1727.6,555.0 1735.6,554.5"/>
<path d="M1289.5,323.8 L1296.2,328.2 1302.8,332.7 1309.3,337.2 1315.6,342.0 1321.5,347.1 1326.9,352.7 1331.4,358.9 1335.2,365.5 1338.1,372.7 1340.1,380.1 1341.5,387.9 1342.4,395.7 1342.8,403.6 1342.8,411.6 1342.5,419.6 1342.1,427.6 1341.7,435.5 1341.4,443.5 1341.3,451.5 1341.5,459.4 1342.1,467.4 1343.1,475.2 1344.5,483.1 1346.3,490.8 1348.4,498.5 1350.8,506.1 1353.5,513.6 1356.6,521.0 1360.0,528.1 1363.8,535.1 1368.0,541.8 1372.6,548.2 1377.7,554.3 1383.2,560.0 1389.0,565.3 1395.2,570.3 1401.7,574.9 1408.4,579.1 1415.3,583.1 1422.4,586.8 1429.6,590.3 1436.8,593.6 1444.2,596.6 1451.7,599.4 1459.3,601.9 1467.0,604.1 1474.7,606.0 1482.5,607.6 1490.4,609.0 1498.3,610.2 1506.2,611.2 1514.2,612.2 1522.1,613.1 1530.0,614.0 1538.0,615.1 1545.9,616.2 1553.8,617.4 1561.6,618.9 1569.4,620.7 1577.1,622.7 1584.7,625.1 1592.2,627.8 1599.6,630.8 1606.9,634.0 1614.1,637.5 1621.2,641.2 1628.1,645.1 1635.0,649.2 1641.8,653.5 1648.5,657.9 1655.0,662.4 1661.5,667.1 1667.9,671.9 1674.3,676.8 1680.5,681.8 1686.7,686.9 1692.7,692.1 1698.7,697.4 1704.6,702.8 1710.4,708.3 1716.1,713.9 1721.7,719.6 1727.2,725.4 1732.6,731.3 1737.9,737.3 1743.1,743.4 1748.2,749.6 1753.1,755.9 1758.0,762.2 1762.7,768.6 1767.4,775.1 1772.0,781.7 1776.4,788.4 1780.8,795.1 1785.1,801.8 1789.2,808.6 1793.4,815.5 1797.4,822.4 1801.3,829.4 1805.2,836.4 1809.1,843.4 1812.8,850.5 1816.5,857.6 1820.2,864.7 1823.7,871.8 1827.3,879.0 1830.7,886.3 1834.1,893.5 1837.4,900.8 1840.6,908.1 1843.8,915.5 1846.8,922.9 1849.7,930.3 1852.5,937.8 1855.2,945.3 1857.7,952.9 1860.0,960.6 1862.1,968.3 1864.0,976.1 1865.7,983.9 1867.2,991.7 1868.4,999.6 1869.4,1007.5 1870.2,1015.5 1870.7,1023.5 1871.0,1031.4 1871.1,1039.4 1871.0,1047.4 1870.6,1055.4 1870.0,1063.4 1869.2,1071.3 1868.4,1079.3 1867.5,1087.2 1866.6,1095.2 1865.7,1103.1 1864.9,1111.1 1864.4,1119.0 1864.0,1127.0 1863.9,1135.0 1864.1,1143.0 1864.6,1150.9 1865.3,1158.9 1866.3,1166.8 1867.7,1174.7 1869.3,1182.4 1871.4,1190.1 1873.8,1197.7 1876.7,1205.0 1880.1,1212.2 1884.0,1219.1 1888.3,1225.7 1892.9,1232.2 1897.8,1238.6 1902.7,1244.8 1907.8,1251.0 1910.3,1254.1"/>
<path d="M1570.0,720.5 L1562.0,719.7 1554.0,718.9 1546.1,718.2 1538.1,717.5 1530.1,716.8 1522.1,716.1 1514.1,715.2 1506.2,714.1 1498.3,712.7 1490.6,711.0 1482.9,708.9 1475.3,706.4 1467.9,703.5 1460.6,700.2 1453.5,696.6 1446.5,692.7 1439.7,688.5 1433.0,684.1 1426.5,679.5 1420.1,674.7 1413.8,669.8 1407.7,664.6 1401.6,659.3 1395.8,653.9 1390.1,648.3 1384.5,642.5 1379.2,636.6 1374.0,630.5 1369.0,624.2 1364.2,617.8 1359.7,611.2 1355.4,604.4 1351.5,597.5 1347.8,590.4 1344.4,583.2 1341.5,575.8 1338.9,568.3 1336.9,560.6 1335.4,552.8 1334.4,545.0 1334.0,537.1 1334.1,529.1 1334.7,521.2 1335.6,513.2 1336.7,505.3 1337.9,497.4 1339.2,489.5 1340.4,481.6 1341.4,473.6 1342.3,465.7 1343.0,457.7 1343.5,449.7 1343.9,441.7 1344.2,433.7 1344.4,425.7 1344.3,417.7 1344.0,409.7 1343.2,401.8 1341.9,394.0 1340.0,386.4 1337.4,379.1 1334.1,372.0 1330.1,365.3 1325.5,358.8 1320.5,352.6 1315.3,346.6 1310.0,340.6 1307.4,337.6"/>
<path d="M1294.5,325.8 L1300.7,330.9 1306.8,336.0 1312.9,341.2 1318.8,346.5 1324.4,352.1 1329.5,358.0 1333.9,364.3 1337.6,371.1 1340.5,378.3 1342.5,385.8 1343.9,393.5 1344.6,401.3 1344.9,409.3 1344.8,417.2 1344.6,425.2 1344.2,433.2 1343.7,441.2 1343.2,449.2 1342.6,457.2 1342.0,465.1 1341.2,473.1 1340.3,481.1 1339.3,489.0 1338.3,496.9 1337.3,504.9 1336.5,512.8 1335.7,520.8 1335.1,528.8 1334.8,536.7 1334.6,544.7 1334.7,552.7 1335.0,560.7 1335.5,568.7 1336.3,576.6 1337.2,584.6 1338.3,592.5 1339.7,600.4 1341.2,608.2 1343.0,616.0 1345.0,623.7 1347.3,631.4 1349.7,639.0 1352.3,646.5 1355.1,654.0 1358.1,661.4 1361.3,668.8 1364.6,676.1 1368.1,683.3 1371.7,690.3 1375.6,697.3 1379.7,704.2 1383.9,711.0 1388.4,717.6 1392.9,724.2 1397.6,730.7 1402.3,737.2 1407.0,743.7 1409.3,746.9"/>
<path d="M1294.5,325.8 L1300.9,330.6 1307.3,335.4 1313.7,340.2 1320.1,345.0 1326.3,350.0 1332.4,355.2 1338.0,360.7 1343.1,366.6 1347.5,372.9 1351.2,379.7 1354.1,386.9 1356.3,394.4 1357.7,402.1 1358.6,410.0 1359.1,417.9 1359.1,425.9 1359.0,433.9 1358.7,441.9 1358.1,449.9 1357.5,457.9 1356.6,465.8 1355.6,473.7 1354.3,481.6 1353.0,489.5 1351.5,497.4 1350.0,505.3 1348.5,513.1 1347.0,521.0 1345.7,528.9 1344.5,536.8 1343.3,544.7 1342.4,552.7 1341.6,560.6 1340.9,568.6 1340.5,576.6 1340.2,584.6 1340.3,592.6 1340.6,600.6 1341.2,608.5 1342.1,616.5 1343.2,624.4 1344.5,632.3 1346.1,640.1 1348.0,647.8 1350.2,655.5 1352.7,663.1 1355.5,670.5 1358.7,677.8 1362.3,684.9 1366.2,691.8 1370.5,698.5 1375.1,705.1 1379.9,711.5 1384.8,717.8 1389.9,724.0 1394.9,730.2 1400.0,736.3 1405.1,742.5 1408.9,747.2"/>
<path d="M1249.0,479.3 L1253.0,486.3 1257.0,493.2 1261.0,500.2 1265.1,507.1 1269.1,514.1 1273.2,521.0 1277.2,527.9 1281.3,534.8 1285.4,541.8 1289.4,548.7 1293.4,555.7 1297.4,562.6 1301.4,569.6 1305.4,576.6 1309.3,583.6 1313.1,590.7 1316.9,597.8 1320.6,604.9 1324.1,612.1 1327.5,619.4 1330.8,626.7 1333.8,634.1 1336.7,641.6 1339.5,649.1 1342.3,656.6 1345.1,664.2 1348.0,671.6 1351.2,678.9 1354.8,686.0 1358.7,693.0 1363.0,699.6 1367.8,706.0 1372.8,712.2 1378.1,718.2 1383.7,724.0 1389.3,729.7 1395.0,735.4 1400.7,741.1 1406.4,746.7 1407.8,748.1"/>
<path d="M1276.5,459.8 L1747.7,370.5"/>
<path d="M1106.0,815.3 L1399.3,777.2"/>
<path d="M1058.0,809.0 L1061.9,802.0 1065.7,794.9 1069.6,787.9 1073.4,780.8 1077.3,773.8 1081.1,766.8 1085.0,759.7 1088.8,752.6 1092.6,745.6 1096.3,738.5 1100.1,731.4 1103.8,724.2 1107.5,717.1 1111.1,710.0 1114.8,702.8 1118.4,695.7 1122.1,688.5 1125.7,681.4 1129.3,674.2 1133.0,667.0 1136.6,659.9 1140.2,652.7 1143.8,645.5 1147.4,638.4 1151.0,631.2 1154.5,624.0 1158.1,616.8 1161.7,609.6 1165.3,602.5 1168.9,595.3 1172.5,588.1 1176.1,580.9 1179.6,573.7 1183.2,566.5 1186.8,559.4 1190.4,552.2 1194.0,545.0 1197.6,537.8 1201.2,530.6 1204.7,523.5 1208.3,516.3 1211.9,509.1 1215.5,501.9 1219.1,494.8 1220.0,493.0"/>
<path d="M911.0,627.7 L918.9,629.4 926.7,631.1 934.6,632.7 942.4,634.4 950.3,636.0 958.1,637.7 966.0,639.3 973.9,640.9 981.7,642.5 989.6,644.1 997.5,645.7 1005.3,647.3 1013.2,648.9 1021.1,650.6 1028.9,652.2 1036.8,653.8 1044.7,655.5 1052.5,657.2 1060.4,658.9 1068.2,660.6 1076.0,662.3 1083.9,664.1 1091.7,665.9 1099.5,667.7 1107.3,669.6 1115.1,671.5 1122.9,673.4 1130.7,675.4 1138.5,677.4 1146.3,679.4 1154.0,681.5 1161.8,683.7 1169.5,685.8 1177.2,688.0 1184.9,690.3 1192.6,692.5 1200.3,694.8 1208.0,697.1 1215.7,699.5 1223.4,701.9 1231.0,704.3 1238.7,706.7 1246.3,709.1 1254.0,711.5 1261.6,714.0 1269.3,716.5 1276.9,719.0 1284.6,721.4 1292.2,723.9 1299.8,726.4 1307.4,728.9 1315.1,731.4 1322.7,734.0 1330.3,736.5 1338.0,739.0 1345.6,741.5 1353.2,743.9 1360.9,746.4 1368.5,748.9 1376.2,751.3 1383.8,753.8 1391.5,756.2 1399.1,758.7"/>
<path d="M941.0,723.3 L1398.6,764.8"/>
<path d="M898.0,883.0 L1004.2,839.2"/>
<path d="M900.0,1061.0 L907.3,1064.5 914.5,1068.1 921.8,1071.6 929.0,1075.2 936.3,1078.8 943.5,1082.5 950.6,1086.3 957.7,1090.2 964.7,1094.2 971.6,1098.4 978.4,1102.6 985.2,1107.0 991.9,1111.5 998.6,1116.0 1005.3,1120.5 1012.0,1125.0 1018.7,1129.6"/>
<path d="M1253.0,1011.0 L1258.6,1005.3 1264.2,999.6 1269.9,993.9 1275.5,988.2 1281.1,982.5 1286.6,976.7 1292.1,970.9 1297.5,965.0 1302.8,959.0 1308.0,952.9 1313.1,946.7 1318.1,940.4 1323.0,934.1 1327.8,927.7 1332.6,921.3 1337.2,914.8 1341.9,908.3 1346.5,901.7 1351.0,895.1 1355.6,888.5 1360.1,881.9 1364.6,875.3 1369.0,868.6 1373.5,862.0 1378.0,855.3 1382.4,848.7 1386.9,842.0 1391.3,835.4 1395.8,828.7 1400.3,822.1 1404.8,815.4 1409.3,808.8 1413.8,802.2 1418.3,795.6"/>
<path d="M1301.5,1021.7 L1309.5,1021.3 1317.5,1020.9 1325.5,1020.5 1333.5,1020.2 1341.5,1019.8 1349.6,1019.5 1357.6,1019.1 1365.6,1018.8 1373.6,1018.4 1381.6,1018.1 1389.6,1017.7 1397.6,1017.4 1405.6,1017.0 1413.6,1016.6 1421.6,1016.2 1429.7,1015.7 1437.7,1015.3 1445.7,1014.8 1453.7,1014.3 1461.7,1013.8 1469.7,1013.2 1477.7,1012.6 1485.7,1012.0 1493.6,1011.3 1501.6,1010.6 1509.6,1009.9 1517.6,1009.2 1525.6,1008.4 1533.6,1007.6 1541.5,1006.8 1549.5,1006.0 1557.5,1005.1 1565.5,1004.3 1573.4,1003.4 1581.4,1002.5 1589.4,1001.6 1597.3,1000.7 1605.3,999.7 1613.3,998.8 1621.2,997.9 1629.2,996.9 1637.1,996.0 1645.1,995.0 1653.1,994.1 1661.0,993.1 1669.0,992.1 1677.0,991.2 1684.9,990.2 1692.9,989.3 1700.8,988.3 1708.8,987.4 1716.8,986.4 1724.7,985.5 1732.7,984.6 1740.7,983.6 1748.6,982.7 1756.6,981.8"/>
<path d="M1058.3,1137.0 L1061.9,1129.8 1065.5,1122.7 1069.2,1115.6 1073.0,1108.5 1077.0,1101.6 1081.1,1094.8 1085.4,1088.0 1089.9,1081.4 1094.5,1074.8 1099.2,1068.4 1104.0,1061.9 1108.9,1055.6 1113.9,1049.3 1118.9,1043.1 1124.0,1037.0 1129.3,1030.9 1134.5,1024.9 1139.9,1018.9 1145.3,1013.0 1150.8,1007.2 1156.4,1001.4 1162.0,995.8 1167.8,990.2 1173.6,984.7 1179.6,979.4 1185.7,974.2 1191.9,969.2 1198.2,964.3 1204.7,959.6 1211.3,955.0 1218.0,950.6 1224.7,946.4 1231.6,942.2 1238.5,938.2 1245.4,934.2 1252.4,930.2 1259.3,926.2 1266.3,922.2 1273.2,918.1 1280.0,914.0 1286.8,909.7 1293.5,905.3 1300.1,900.8 1306.6,896.1 1313.0,891.3 1319.2,886.3 1325.3,881.2 1331.4,875.9 1337.3,870.5 1343.2,865.1 1348.9,859.5 1354.7,853.9 1360.3,848.3 1366.0,842.6 1371.6,836.8 1377.1,831.1 1382.7,825.3 1388.3,819.6 1393.9,813.8 1399.5,808.1 1405.1,802.4 1410.8,796.7 1413.6,793.9"/>
<path d="M1065.0,1137.0 L1070.6,1131.2 1076.2,1125.5 1081.8,1119.7 1087.3,1113.9 1092.9,1108.1 1098.6,1102.4 1104.3,1096.8 1110.1,1091.3 1116.1,1086.0 1122.3,1080.9 1128.6,1076.0 1135.2,1071.4 1141.9,1067.1 1148.8,1063.0 1155.8,1059.1 1162.9,1055.3 1170.0,1051.7 1177.2,1048.0 1184.4,1044.4 1186.2,1043.5"/>
<path d="M1091.7,1137.0 L1099.4,1134.8 1107.1,1132.6 1114.8,1130.4 1122.5,1128.2 1130.2,1126.0 1137.9,1123.8 1145.6,1121.6 1153.3,1119.4 1161.0,1117.3 1168.7,1115.2 1176.4,1113.1 1184.2,1111.1 1191.9,1109.1 1199.7,1107.3 1207.5,1105.4 1215.3,1103.7 1223.1,1102.0 1231.0,1100.4 1238.8,1098.9 1246.7,1097.4 1254.6,1096.0 1262.4,1094.6 1270.3,1093.3 1278.2,1092.1 1286.2,1090.9 1294.1,1089.7 1302.0,1088.6 1309.9,1087.5 1317.8,1086.4 1325.8,1085.3 1333.7,1084.3 1341.7,1083.3 1349.6,1082.3 1357.6,1081.4 1365.5,1080.5 1373.5,1079.6 1381.4,1078.8 1389.4,1078.1 1397.4,1077.3 1405.3,1076.7 1413.3,1076.0 1421.3,1075.5 1429.3,1075.0 1437.3,1074.5 1445.3,1074.2 1453.3,1073.9 1461.3,1073.7 1469.3,1073.5 1477.3,1073.4 1485.3,1073.4 1493.3,1073.3 1501.3,1073.4 1509.3,1073.4 1517.3,1073.5 1525.3,1073.6 1533.3,1073.8 1541.3,1073.9 1549.3,1074.0 1557.3,1074.1 1565.3,1074.3 1573.3,1074.4 1581.3,1074.4 1589.3,1074.5 1597.3,1074.5 1605.3,1074.4 1613.3,1074.4 1621.3,1074.2 1629.3,1074.1 1637.3,1073.9 1645.3,1073.6 1653.3,1073.4 1661.3,1073.1 1669.3,1072.8 1677.3,1072.5 1685.3,1072.3 1693.3,1072.0 1701.3,1071.8 1709.3,1071.6 1717.3,1071.5 1725.3,1071.4 1733.3,1071.3 1741.3,1071.3 1749.3,1071.4 1757.3,1071.6 1765.3,1071.9 1773.3,1072.3 1781.3,1072.8 1789.2,1073.4 1797.2,1074.1 1805.1,1074.9 1813.1,1075.9 1821.0,1077.0 1828.9,1078.1 1836.8,1079.4 1844.7,1080.8 1852.6,1082.2 1860.4,1083.8 1868.3,1085.4 1876.1,1087.1 1883.9,1088.8 1891.7,1090.6 1899.5,1092.5 1907.2,1094.5 1915.0,1096.5 1922.7,1098.5 1930.4,1100.6 1938.1,1102.8 1945.8,1105.0 1953.5,1107.3 1961.2,1109.6 1968.8,1111.9 1976.5,1114.3 1984.1,1116.7 1991.7,1119.2 1999.2,1121.8 2006.8,1124.5 2014.3,1127.2 2021.8,1130.1 2029.2,1133.0 2036.6,1136.0 2044.0,1139.1 2051.4,1142.2 2058.7,1145.4 2066.1,1148.6 2073.4,1151.8 2080.7,1155.1 2088.0,1158.3 2095.4,1161.5 2102.7,1164.7 2110.0,1167.9 2117.4,1171.0 2119.2,1171.8"/>
<path d="M1112.0,1146.0 L1357.0,1131.1"/>
<path d="M1112.0,1154.3 L1359.0,1171.1"/>
<path d="M1081.7,1162.0 L1192.6,1208.8"/>
<path d="M1060.0,1162.0 L1065.8,1167.5 1071.7,1173.1 1077.5,1178.6 1083.3,1184.2 1089.2,1189.7 1095.0,1195.3 1100.9,1200.7 1106.8,1206.2 1112.8,1211.6 1118.9,1216.8 1125.0,1222.0 1131.3,1227.0 1137.7,1231.9 1144.1,1236.7 1150.7,1241.4 1157.3,1245.9 1163.9,1250.5 1170.6,1255.0 1173.9,1257.3"/>
<path d="M1060.0,1162.0 L1064.6,1168.6 1069.2,1175.2 1073.8,1181.8 1078.3,1188.5 1082.9,1195.1 1087.4,1201.7 1092.0,1208.4 1096.5,1215.0 1101.1,1221.6 1105.7,1228.2 1110.3,1234.8 1114.9,1241.4 1119.6,1247.9 1124.3,1254.5 1129.1,1260.9 1133.9,1267.4 1138.8,1273.7 1143.8,1280.0 1148.9,1286.3 1154.0,1292.4 1159.3,1298.5 1164.6,1304.6 1170.0,1310.5 1175.4,1316.5 1180.9,1322.4 1186.4,1328.2 1191.9,1334.1 1197.4,1339.9 1203.0,1345.8 1208.5,1351.6 1212.6,1356.0"/>
<path d="M1051.7,1162.0 L1052.1,1170.0 1052.6,1178.0 1052.9,1186.0 1053.3,1194.0 1053.6,1202.0 1054.0,1210.0 1054.5,1218.0 1055.2,1226.0 1056.1,1233.9 1057.2,1241.8 1058.7,1249.7 1060.4,1257.5 1062.4,1265.2 1064.7,1272.8 1067.2,1280.4 1069.9,1288.0 1072.8,1295.4 1075.9,1302.8 1079.1,1310.2 1082.5,1317.4 1086.0,1324.6 1089.7,1331.7 1093.6,1338.7 1097.7,1345.5 1102.0,1352.2 1106.6,1358.8 1111.4,1365.2 1116.4,1371.4 1121.7,1377.3 1127.4,1382.9 1133.3,1388.3 1139.4,1393.3 1145.8,1398.0 1152.5,1402.4 1159.3,1406.6 1166.3,1410.4 1173.4,1414.1 1180.6,1417.4 1188.0,1420.6 1195.4,1423.5 1202.9,1426.3 1210.5,1428.8 1218.2,1431.2 1225.8,1433.4 1233.6,1435.5 1241.4,1437.3 1249.2,1438.8 1257.1,1440.1 1265.0,1441.2 1273.0,1441.9 1280.9,1442.4 1288.9,1442.6 1296.9,1442.7 1304.9,1442.6 1312.9,1442.4 1321.0,1442.2 1329.0,1441.9 1337.0,1441.6 1345.0,1441.4 1353.0,1441.2 1361.0,1441.1 1365.0,1441.0"/>
<path d="M1051.7,1162.0 L1052.0,1170.0 1052.3,1178.0 1052.6,1186.0 1052.7,1194.0 1052.8,1202.0 1052.8,1210.0 1052.8,1218.0 1052.8,1226.0 1052.8,1234.0 1052.9,1242.0 1053.0,1250.0 1053.2,1258.0 1053.6,1266.0 1054.1,1273.9 1054.8,1281.9 1055.7,1289.8 1056.9,1297.7 1058.4,1305.6 1060.1,1313.3 1062.2,1321.0 1064.7,1328.6 1067.5,1336.1 1070.5,1343.4 1073.8,1350.7 1077.4,1357.8 1081.1,1364.9 1085.1,1371.8 1089.3,1378.6 1093.6,1385.3 1098.1,1391.9 1102.8,1398.4 1107.7,1404.7 1112.8,1410.8 1118.0,1416.9 1123.5,1422.7 1129.1,1428.4 1134.9,1433.8 1140.9,1439.1 1147.1,1444.0 1153.6,1448.7 1160.2,1453.1 1167.0,1457.2 1174.1,1460.9 1181.3,1464.3 1188.6,1467.3 1196.2,1469.9 1203.8,1472.3 1211.5,1474.4 1219.2,1476.2 1227.1,1477.8 1234.9,1479.2 1242.8,1480.4 1250.8,1481.5 1258.7,1482.4 1266.7,1483.3 1274.6,1484.0 1282.6,1484.7 1290.6,1485.4 1298.5,1486.0 1306.5,1486.5 1314.5,1487.0 1322.5,1487.3 1330.5,1487.6 1338.5,1487.7 1346.5,1487.8 1354.5,1487.6 1362.5,1487.4 1370.5,1487.1 1378.5,1486.7 1386.5,1486.2 1394.4,1485.6 1402.4,1485.0 1410.4,1484.3 1418.4,1483.6 1426.3,1482.9 1434.3,1482.1 1442.2,1481.3 1450.2,1480.5 1458.2,1479.7 1466.1,1478.9 1474.1,1478.1 1482.1,1477.3 1490.0,1476.5 1498.0,1475.7 1505.9,1474.9 1513.9,1474.0 1521.9,1473.2 1529.8,1472.3 1537.8,1471.3 1545.7,1470.3 1553.6,1469.3 1561.6,1468.3 1569.5,1467.2 1577.4,1466.1 1585.3,1464.9 1593.2,1463.7 1601.2,1462.5 1609.0,1461.2 1616.9,1459.9 1624.8,1458.5 1632.7,1457.0 1640.6,1455.6 1648.4,1454.0 1656.3,1452.5 1664.1,1450.8 1671.9,1449.2 1679.7,1447.5 1687.5,1445.7 1695.4,1444.0 1703.2,1442.2 1710.9,1440.4 1718.7,1438.6 1726.5,1436.7 1734.3,1434.9 1742.1,1433.1 1749.9,1431.3 1757.7,1429.4 1765.5,1427.6 1773.3,1425.9 1781.1,1424.1 1788.9,1422.3 1796.7,1420.5 1804.5,1418.7 1812.3,1417.0 1820.1,1415.2 1827.9,1413.4 1835.7,1411.6 1843.5,1409.7 1851.3,1407.9 1859.1,1406.0 1866.8,1404.0 1874.6,1402.1 1882.3,1400.0 1890.0,1397.9 1897.7,1395.8 1905.4,1393.5 1913.1,1391.2 1920.7,1388.8 1928.3,1386.4 1935.9,1383.9 1943.5,1381.3 1951.1,1378.8 1958.7,1376.2 1966.3,1373.7 1973.9,1371.2 1981.5,1368.8 1989.2,1366.5 1996.8,1364.3 2004.6,1362.1 2012.3,1360.0 2020.0,1358.0 2027.8,1356.0 2035.5,1354.1 2043.3,1352.2 2051.1,1350.4 2058.9,1348.6 2066.7,1346.7 2074.5,1344.9 2082.3,1343.1 2090.1,1341.2 2097.8,1339.4 2099.8,1338.9"/>
<path d="M1051.7,1162.0 L1051.9,1170.0 1052.1,1178.0 1052.2,1186.0 1052.3,1194.0 1052.4,1202.0 1052.5,1210.0 1052.5,1218.0 1052.6,1226.0 1052.8,1234.0 1053.0,1242.0 1053.4,1250.0 1053.8,1258.0 1054.4,1266.0 1055.2,1273.9 1056.1,1281.9 1057.2,1289.8 1058.4,1297.7 1059.7,1305.6 1061.0,1313.5 1062.5,1321.4 1063.9,1329.2 1065.4,1337.1 1067.0,1344.9 1068.6,1352.8 1070.3,1360.6 1072.1,1368.4 1074.1,1376.1 1076.2,1383.9 1078.4,1391.5 1080.9,1399.1 1083.5,1406.7 1086.5,1414.1 1089.6,1421.4 1093.1,1428.6 1096.9,1435.6 1101.0,1442.4 1105.5,1448.9 1110.3,1455.2 1115.5,1461.2 1121.0,1467.0 1126.8,1472.4 1132.9,1477.6 1139.1,1482.5 1145.6,1487.1 1152.3,1491.6 1159.1,1495.8 1166.0,1499.7 1173.0,1503.5 1180.1,1507.1 1187.4,1510.6 1194.7,1513.8 1202.0,1516.9 1209.5,1519.9 1217.0,1522.7 1224.5,1525.3 1232.1,1527.8 1239.7,1530.2 1247.4,1532.4 1255.1,1534.5 1262.9,1536.4 1270.7,1538.2 1278.5,1539.8 1286.4,1541.1 1294.3,1542.2 1302.2,1543.1 1310.2,1543.7 1318.2,1544.1 1326.2,1544.3 1334.2,1544.3 1342.2,1544.1 1350.1,1543.7 1358.1,1543.3 1366.1,1542.7 1374.1,1542.0 1382.1,1541.3 1390.0,1540.5 1398.0,1539.6 1405.9,1538.7 1413.9,1537.8 1421.8,1536.9 1429.8,1536.0 1437.7,1535.1 1445.7,1534.3 1453.7,1533.6 1461.6,1532.9 1469.6,1532.3 1477.6,1531.8 1485.6,1531.4 1493.6,1531.1 1501.6,1530.9 1509.6,1530.7 1517.6,1530.6 1525.6,1530.6 1533.6,1530.5 1541.6,1530.5 1549.6,1530.5 1557.6,1530.5 1565.6,1530.5 1573.6,1530.6 1581.6,1530.6 1589.6,1530.7 1597.6,1530.7 1605.6,1530.8 1613.6,1530.8 1621.6,1530.9 1629.7,1530.9 1637.7,1531.0 1645.7,1531.0 1653.7,1531.1 1661.7,1531.2 1669.7,1531.3 1677.7,1531.5 1685.7,1531.7 1693.7,1531.9 1701.7,1532.2 1709.7,1532.4 1717.7,1532.7 1725.7,1532.9 1733.7,1533.0 1741.7,1533.2 1749.7,1533.2 1757.7,1533.2 1765.7,1533.1 1773.7,1532.9 1781.7,1532.5 1789.7,1532.1 1797.6,1531.5 1805.6,1530.8 1813.6,1530.0 1821.5,1529.1 1829.4,1528.1 1837.4,1527.0 1845.3,1525.8 1853.2,1524.5 1861.1,1523.1 1868.9,1521.7 1876.8,1520.1 1884.6,1518.5 1892.4,1516.7 1900.2,1514.9 1908.0,1513.0 1915.7,1511.0 1923.4,1508.8 1931.1,1506.6 1938.8,1504.3 1946.4,1501.8 1954.0,1499.3 1961.5,1496.6 1969.0,1493.8 1976.4,1490.9 1983.8,1487.8 1991.2,1484.6 1998.5,1481.4 2005.7,1478.0 2012.9,1474.5 2020.1,1471.0 2027.3,1467.4 2034.4,1463.8 2041.5,1460.1 2048.6,1456.4 2055.7,1452.7 2062.8,1448.9 2069.8,1445.2 2076.9,1441.4 2084.0,1437.7 2091.1,1434.0 2098.2,1430.4 2105.4,1426.7 2112.5,1423.1 2117.9,1420.4"/>
<path d="M1289.7,1366.6 L1295.4,1360.9 1301.0,1355.3 1306.6,1349.5 1312.2,1343.8 1317.7,1337.9 1323.0,1331.9 1328.1,1325.8 1333.1,1319.6 1337.7,1313.1 1342.0,1306.4 1345.9,1299.5 1349.3,1292.4 1352.1,1285.0 1354.4,1277.4 1356.1,1269.7 1357.3,1261.9 1358.2,1253.9 1358.6,1246.0 1358.9,1238.0 1359.0,1230.0 1359.0,1222.0 1359.0,1213.9 1359.0,1205.9 1359.0,1197.9 1359.0,1189.9 1359.0,1181.9 1359.0,1173.9 1359.1,1165.9 1359.2,1157.8 1359.4,1149.8 1359.8,1141.8 1360.4,1133.9 1361.1,1125.9 1362.0,1117.9 1363.2,1110.0 1364.4,1102.1 1365.8,1094.2 1367.2,1086.3 1368.7,1078.4 1370.2,1070.6 1371.8,1062.7 1373.4,1054.9 1375.0,1047.0 1376.7,1039.2 1378.4,1031.3 1380.0,1023.5 1381.7,1015.6 1383.3,1007.8 1385.0,1000.0 1386.6,992.1 1388.2,984.3 1389.8,976.4 1391.5,968.6 1393.1,960.7 1394.7,952.8 1396.3,945.0 1397.9,937.1 1399.5,929.3 1401.1,921.4 1402.7,913.6 1404.3,905.7 1405.9,897.9 1407.5,890.0 1409.1,882.2 1410.7,874.3 1412.3,866.5 1413.9,858.6 1415.5,850.7 1417.1,842.9 1418.7,835.0 1420.3,827.2 1421.9,819.3 1423.5,811.5 1425.1,803.6 1426.3,797.7"/>
<path d="M1289.7,1366.6 L1295.5,1361.0 1301.3,1355.5 1307.0,1349.8 1312.5,1344.0 1317.7,1337.9 1322.5,1331.6 1326.8,1324.9 1330.5,1318.0 1333.6,1310.7 1336.1,1303.2 1338.1,1295.5 1339.5,1287.6 1340.4,1279.7 1340.9,1271.7 1340.9,1263.7 1340.8,1255.7 1340.5,1247.7 1340.2,1239.6 1339.9,1231.6 1339.9,1223.6 1340.2,1215.6 1340.9,1207.6 1342.1,1199.8 1343.9,1192.1 1346.3,1184.6 1349.5,1177.4 1353.3,1170.6 1357.7,1164.1 1362.7,1157.9 1368.0,1152.0 1370.8,1149.1"/>
<path d="M1289.7,1366.6 L1295.3,1360.9 1300.9,1355.2 1306.5,1349.5 1312.0,1343.7 1317.2,1337.7 1322.1,1331.5 1326.6,1325.0 1330.5,1318.2 1333.7,1311.1 1336.3,1303.7 1338.4,1296.1 1340.0,1288.3 1341.4,1280.5 1342.7,1272.6 1343.9,1264.7 1345.3,1256.8 1346.8,1249.0 1348.5,1241.2 1350.6,1233.7 1353.3,1226.3 1356.7,1219.4 1360.9,1213.1 1365.9,1207.4 1371.6,1202.4 1377.8,1197.9 1381.0,1195.7"/>
<path d="M1271.7,1366.0 L1279.0,1362.6 1286.2,1359.3 1293.5,1355.9 1300.7,1352.5 1308.0,1349.1 1315.2,1345.8 1322.5,1342.5 1329.8,1339.3 1337.2,1336.1 1344.6,1333.1 1352.0,1330.1 1359.5,1327.3 1367.0,1324.6 1374.6,1321.9 1382.2,1319.4 1389.8,1316.9 1397.4,1314.4 1405.0,1312.0 1412.7,1309.7 1420.3,1307.4 1428.0,1305.1 1435.7,1302.8 1443.3,1300.6 1451.0,1298.4 1458.7,1296.1 1466.4,1293.9 1474.1,1291.6 1481.7,1289.4 1489.4,1287.1 1497.1,1284.8 1504.7,1282.5 1512.4,1280.2 1520.0,1277.8 1527.7,1275.5 1535.3,1273.1 1543.0,1270.8 1550.6,1268.4 1558.3,1266.0 1565.9,1263.7 1573.6,1261.4 1581.2,1259.0 1588.9,1256.7 1596.6,1254.5 1604.2,1252.2 1611.9,1250.0 1619.6,1247.9 1627.3,1245.7 1635.1,1243.6 1642.8,1241.6 1650.6,1239.6 1658.3,1237.7 1666.1,1235.8 1673.9,1234.0 1681.7,1232.3 1689.5,1230.6 1697.3,1229.0 1705.2,1227.4 1713.0,1225.9 1720.9,1224.4 1728.8,1223.0 1736.7,1221.7 1744.6,1220.4 1752.5,1219.1 1760.4,1217.9 1768.3,1216.7 1776.2,1215.5 1784.1,1214.4 1792.0,1213.3 1800.0,1212.3 1807.9,1211.2 1815.9,1210.2 1823.8,1209.2 1831.7,1208.3 1839.7,1207.4 1847.6,1206.4 1855.6,1205.6 1863.5,1204.7 1871.5,1203.8 1879.4,1203.0 1887.4,1202.2 1895.4,1201.4 1903.3,1200.6 1911.3,1199.9 1919.3,1199.1 1927.2,1198.4 1935.2,1197.8 1943.2,1197.1 1951.2,1196.5 1959.1,1196.0 1967.1,1195.5 1975.1,1195.0 1983.1,1194.6 1991.1,1194.2 1999.1,1193.8 2007.1,1193.5 2015.1,1193.2 2023.1,1192.8 2031.1,1192.5 2039.1,1192.3 2047.1,1192.0 2055.0,1191.7 2063.0,1191.3 2071.0,1191.0 2079.0,1190.7 2087.0,1190.3 2095.0,1190.0"/>
<path d="M1294.0,1365.3 L1301.9,1364.1 1309.8,1362.9 1317.7,1361.6 1325.7,1360.4 1333.6,1359.1 1341.5,1357.8 1349.4,1356.6 1357.3,1355.3 1365.2,1354.0 1373.1,1352.7 1381.0,1351.5 1388.9,1350.2 1396.8,1348.9 1404.8,1347.7 1412.7,1346.5 1420.6,1345.3 1428.5,1344.1 1436.4,1342.9 1444.4,1341.8 1452.3,1340.7 1460.2,1339.7 1468.2,1338.6 1476.1,1337.7 1484.1,1336.8 1492.1,1335.9 1500.0,1335.1 1508.0,1334.3 1516.0,1333.6 1524.0,1332.9 1531.9,1332.3 1539.9,1331.8 1547.9,1331.2 1555.9,1330.8 1563.9,1330.4 1571.9,1330.0 1579.9,1329.6 1587.9,1329.3 1595.9,1329.0 1603.9,1328.7 1611.9,1328.4 1620.0,1328.2 1628.0,1327.9 1636.0,1327.7 1644.0,1327.5 1652.0,1327.3 1660.0,1327.1 1668.0,1327.0 1676.0,1326.9 1684.0,1326.8 1692.0,1326.7 1700.0,1326.6 1708.0,1326.5 1716.1,1326.4 1724.1,1326.3 1732.1,1326.3 1740.1,1326.2 1748.1,1326.1 1756.1,1326.1 1764.1,1326.0 1772.1,1326.0 1780.1,1326.0 1788.2,1325.9 1796.2,1325.9 1804.2,1325.9 1812.2,1325.8 1820.2,1325.8 1828.2,1325.8 1836.2,1325.8 1844.2,1325.8 1852.2,1325.7 1860.2,1325.7 1868.3,1325.7 1876.3,1325.7 1884.3,1325.7 1892.3,1325.7 1900.3,1325.7 1908.3,1325.7 1916.3,1325.7 1924.3,1325.7 1932.3,1325.7 1940.3,1325.7 1948.4,1325.7 1956.4,1325.7 1964.4,1325.6 1972.4,1325.6 1980.4,1325.6 1988.4,1325.6 1996.4,1325.6 2004.4,1325.6 2012.4,1325.6 2020.5,1325.6 2028.5,1325.5 2036.5,1325.4 2044.5,1325.4 2052.5,1325.2 2060.5,1325.1 2068.5,1324.9 2072.5,1324.8"/>
<path d="M1294.0,1380.3 L1302.0,1380.5 1310.0,1380.7 1318.0,1380.8 1326.0,1381.0 1334.1,1381.2 1342.1,1381.4 1350.1,1381.5 1358.1,1381.7 1366.1,1381.9 1374.1,1382.1 1382.1,1382.2 1390.1,1382.4 1398.1,1382.6 1406.1,1382.8 1414.2,1382.9 1422.2,1383.1 1430.2,1383.3 1438.2,1383.5 1446.2,1383.7 1454.2,1383.9 1462.2,1384.0 1470.2,1384.2 1478.2,1384.4 1486.3,1384.6 1494.3,1384.8 1502.3,1385.0 1510.3,1385.2 1518.3,1385.4 1526.3,1385.6 1534.3,1385.8 1542.3,1386.0 1550.3,1386.2 1558.3,1386.4 1566.4,1386.6 1574.4,1386.8 1582.4,1387.0 1590.4,1387.2 1598.4,1387.4 1606.4,1387.6 1614.4,1387.8 1622.4,1388.0 1630.4,1388.2 1638.4,1388.4 1646.5,1388.6 1654.5,1388.8 1662.5,1389.0 1670.5,1389.2 1678.5,1389.4 1686.5,1389.6 1694.5,1389.8 1702.5,1390.0 1710.5,1390.2 1718.5,1390.4 1726.6,1390.6 1734.6,1390.8 1742.6,1391.0 1750.6,1391.3 1758.6,1391.5 1766.6,1391.7 1774.6,1391.9 1782.6,1392.1 1790.6,1392.3 1798.6,1392.5 1806.7,1392.7 1814.7,1392.9 1822.7,1393.1 1830.7,1393.3 1838.7,1393.5 1846.7,1393.7 1854.7,1393.9 1862.7,1394.1 1870.7,1394.3 1878.7,1394.6 1886.8,1394.8 1894.8,1395.0 1902.8,1395.2 1910.8,1395.4 1918.8,1395.6 1926.8,1395.8 1934.8,1396.0 1942.8,1396.2 1950.8,1396.4 1958.8,1396.6 1966.9,1396.8 1974.9,1397.0 1982.9,1397.2 1990.9,1397.4 1998.9,1397.6 2006.9,1397.9 2014.9,1398.1 2022.9,1398.3 2030.9,1398.5 2038.9,1398.7 2047.0,1398.9 2055.0,1399.1 2063.0,1399.3 2071.0,1399.5 2079.0,1399.7 2087.0,1399.9 2089.0,1400.0"/>
<path d="M1288.3,1391.0 L1371.9,1413.1"/>
<path d="M1503.0,252.0 L1574.7,238.5"/>
<path d="M1497.0,279.0 L1747.9,344.6"/>
<path d="M1497.0,277.0 L1502.3,283.0 1507.5,289.1 1512.4,295.4 1516.9,302.0 1520.9,308.9 1524.3,316.0 1527.3,323.4 1529.7,331.0 1531.5,338.8 1532.8,346.6 1533.6,354.6 1534.0,362.6 1534.0,370.6 1533.9,378.7 1533.8,386.7 1533.7,394.8 1533.8,402.8 1534.1,410.9 1534.6,418.9 1535.3,426.9 1536.4,434.8 1537.9,442.6 1539.9,450.3 1542.6,457.7 1546.0,464.7 1550.2,471.3 1555.0,477.5 1560.3,483.5 1565.9,489.2 1571.7,494.7"/>
<path d="M1488.5,277.0 L1495.5,280.9 1502.3,284.9 1509.0,289.2 1515.4,293.8 1521.5,298.9 1527.2,304.3 1532.6,310.1 1537.8,316.1 1543.0,322.2 1548.3,328.2 1553.7,334.1 1559.3,339.8 1565.0,345.4 1570.8,350.9 1576.6,356.3 1582.6,361.7 1588.6,367.0 1594.6,372.3 1600.7,377.5 1606.7,382.8 1612.8,388.0 1618.9,393.1 1625.0,398.3 1631.2,403.5 1637.3,408.6 1643.4,413.7 1649.6,418.9 1655.7,424.0 1661.9,429.1 1668.1,434.2 1674.2,439.3 1680.4,444.4 1686.6,449.5 1692.7,454.6 1698.9,459.7 1705.1,464.8 1711.3,469.9 1717.4,475.0 1723.6,480.1 1729.8,485.3 1735.9,490.4 1742.1,495.5 1748.2,500.6 1754.3,505.8 1760.5,510.9 1766.6,516.1 1772.7,521.3"/>
<path d="M1643.0,504.5 L1773.2,382.2"/>
<path d="M1701.0,528.3 L1736.6,532.7"/>
<path d="M1635.0,530.0 L1638.0,537.4 1641.0,544.8 1644.0,552.3 1647.0,559.7 1650.0,567.1 1653.0,574.5 1656.0,581.9 1659.0,589.3 1662.0,596.8 1665.1,604.2 1668.1,611.6 1671.1,619.0 1674.0,626.4 1677.0,633.9 1680.0,641.3 1682.9,648.7 1685.9,656.2 1688.8,663.6 1691.7,671.1 1694.6,678.6 1697.4,686.1 1700.3,693.5 1703.1,701.0 1705.9,708.5 1708.7,716.0 1711.5,723.5 1714.2,731.0 1717.0,738.5 1719.7,746.1 1722.5,753.6 1725.2,761.1 1727.9,768.6 1730.6,776.2 1733.3,783.7 1736.0,791.3 1738.7,798.8 1741.3,806.3 1744.0,813.9 1746.7,821.4 1749.4,829.0 1752.0,836.5 1754.7,844.1 1757.4,851.6 1760.0,859.2 1762.7,866.7 1765.3,874.3 1768.0,881.8 1770.7,889.3 1773.3,896.9 1776.0,904.4 1778.7,912.0 1781.4,919.5 1784.1,927.1 1786.7,934.6 1789.4,942.1 1791.4,947.8"/>
<path d="M1818.0,555.5 L1823.4,561.4 1828.8,567.4 1834.1,573.4 1839.2,579.5 1844.2,585.7 1848.9,592.1 1853.3,598.7 1857.4,605.6 1861.2,612.6 1864.6,619.8 1867.9,627.1 1870.9,634.5 1873.7,642.0 1876.5,649.5 1879.1,657.1 1881.6,664.7 1884.1,672.3 1886.5,680.0 1888.9,687.6 1891.2,695.3 1893.5,703.0 1895.8,710.7 1898.0,718.4 1900.3,726.1 1902.5,733.8 1904.8,741.4 1907.1,749.1 1909.3,756.8 1911.6,764.5 1913.8,772.2 1916.0,779.9 1918.2,787.6 1920.3,795.4 1922.3,803.1 1924.3,810.9 1926.2,818.7 1928.0,826.5 1929.8,834.3 1931.4,842.1 1933.0,850.0 1934.5,857.8 1936.0,865.7 1937.4,873.6 1938.8,881.5 1940.1,889.4 1941.4,897.3 1942.6,905.3 1943.8,913.2 1944.9,921.1 1946.1,929.0 1947.2,937.0 1948.2,944.9 1949.3,952.9 1950.3,960.8 1951.3,968.8 1952.2,976.7 1953.2,984.7 1954.1,992.7 1955.0,1000.6 1955.8,1008.6 1956.7,1016.6 1957.5,1024.5 1958.3,1032.5 1959.0,1040.5 1959.7,1048.5 1960.3,1056.5 1961.0,1064.5 1961.5,1072.5 1962.1,1080.5 1962.5,1088.5 1963.0,1096.5 1963.5,1104.5 1963.9,1112.5 1964.3,1120.5 1964.7,1128.5 1965.0,1136.5 1965.4,1144.5 1965.8,1152.5 1966.2,1160.5 1966.6,1168.5 1967.0,1176.5 1967.4,1184.5 1967.8,1192.5 1968.2,1200.5"/>
<path d="M1569.0,727.0 L1561.3,729.0 1553.5,731.0 1545.8,733.0 1538.0,735.1 1530.3,737.2 1522.6,739.4 1514.9,741.6 1507.3,744.0 1499.6,746.4 1492.0,748.8 1484.4,751.3 1476.8,753.8 1474.9,754.4"/>
<path d="M1461.9,770.8 L1469.6,768.7 1477.4,766.5 1485.1,764.4 1492.9,762.2 1500.6,760.1 1508.4,757.9 1516.1,755.8 1523.9,753.7 1531.6,751.6 1539.4,749.5 1547.1,747.4 1554.9,745.3 1562.7,743.3 1570.4,741.2 1578.2,739.2 1586.0,737.1 1589.9,736.1"/>
<path d="M1573.5,762.4 L1565.5,762.3 1557.5,762.1 1549.5,762.0 1541.5,761.9 1533.5,761.8 1525.5,761.7 1517.5,761.7 1509.5,761.8 1501.4,761.9 1493.4,762.1 1485.5,762.5 1477.5,762.9 1475.5,763.0"/>
<path d="M1461.9,777.7 L1469.9,778.0 1477.9,778.3 1485.9,778.7 1493.9,779.0 1501.9,779.2 1509.9,779.4 1517.9,779.5 1526.0,779.6 1534.0,779.6 1542.0,779.5 1550.0,779.4 1558.0,779.3 1560.0,779.3"/>
<path d="M2024.0,1215.3 L2095.2,1203.5"/>
<path d="M2024.0,1238.0 L2081.8,1249.8"/>
<path d="M2017.7,1239.8 L2024.9,1243.6 2032.0,1247.5 2039.0,1251.6 2045.8,1255.9 2052.4,1260.7 2058.6,1265.8 2064.7,1271.2 2070.6,1276.8 2076.6,1282.3 2082.7,1287.6 2089.1,1292.5 2095.7,1297.0 2102.7,1301.0 2108.1,1303.8"/>
<path d="M2011.0,1239.8 L2018.2,1243.2 2025.2,1246.8 2032.0,1250.8 2038.3,1255.3 2043.9,1260.5 2048.9,1266.4 2053.1,1272.8 2056.7,1279.7 2059.6,1287.0 2062.0,1294.6 2064.2,1302.2 2066.4,1309.9 2068.8,1317.4 2071.5,1324.9 2074.7,1332.1 2078.4,1339.1 2082.7,1345.7 2087.4,1352.0 2092.6,1358.0 2098.2,1363.6 2104.1,1369.0 2110.2,1374.1 2116.4,1379.2 2118.0,1380.4"/>
<path d="M2008.3,1265.0 L2111.4,1210.1"/>
<path d="M2036.5,1273.0 L2077.0,1270.5"/>
<path d="M2023.3,1290.5 L2090.2,1306.8"/>
<path d="M1991.7,1290.5 L2119.0,1381.2"/>
<path d="M323.0,1402.7 L373.0,1402.7"/>
<path d="M303.3,1415.5 L412.5,1459.9"/>
<path d="M528.3,1415.5 L578.4,1425.0"/>
<path d="M504.0,1469.3 L578.4,1455.5"/>
<path d="M837.9,883.3 L833.5,876.7 834.3,869.3 840.0,863.9 847.5,861.2 855.5,859.8 863.5,859.0 871.5,858.6 879.6,858.6 887.6,859.5 894.9,862.5 899.4,868.8 900.1,870.7"/>
<path d="M429.2,1389.9 L424.8,1383.3 425.6,1375.9 431.4,1370.5 438.9,1367.8 446.9,1366.4 454.9,1365.6 462.9,1365.2 471.0,1365.2 479.0,1366.0 486.5,1368.7 491.7,1374.6 492.6,1376.4"/>
<path d="M429.2,1464.6 L424.8,1458.0 425.6,1450.6 431.4,1445.2 438.9,1442.5 446.9,1441.1 454.9,1440.3 462.9,1439.9 471.0,1439.9 479.0,1440.7 486.5,1443.4 491.7,1449.3 492.6,1451.1"/>
<path d="M1410.0,757.0 L1404.3,751.4 1402.6,744.4 1408.3,739.6 1415.9,736.8 1423.7,735.1 1431.6,734.0 1439.6,733.5 1447.6,733.6 1455.6,734.3 1463.4,736.0 1470.5,739.6 1474.2,746.2 1474.2,752.2"/>
</g><g fill="#191970" stroke="#191970" stroke-width="1.33">
<polygon points="200.2,937.5 213.0,931.0 199.0,927.6"/>
<polygon points="188.9,967.4 203.0,964.3 190.3,957.5"/>
<polygon points="253.5,1379.4 263.3,1390.0 262.8,1375.6"/>
<polygon points="1227.1,287.7 1233.4,300.6 1237.0,286.7"/>
<polygon points="1222.8,289.9 1232.4,300.6 1232.0,286.2"/>
<polygon points="1206.6,450.1 1220.4,454.2 1212.6,442.1"/>
<polygon points="446.2,597.3 448.0,583.0 437.3,592.7"/>
<polygon points="981.5,821.9 995.0,816.9 981.5,811.9"/>
<polygon points="601.0,972.5 615.0,969.3 602.3,962.6"/>
<polygon points="974.3,1152.5 988.0,1148.2 974.8,1142.5"/>
<polygon points="1431.3,798.7 1429.0,784.5 1421.5,796.8"/>
<polygon points="601.4,243.2 607.0,230.0 594.1,236.4"/>
<polygon points="1166.2,350.1 1180.3,352.9 1171.4,341.6"/>
<polygon points="1008.1,134.8 1018.7,125.1 1004.3,125.6"/>
<polygon points="990.8,265.7 1004.3,260.7 990.8,255.7"/>
<polygon points="820.7,403.5 835.1,402.9 823.8,394.0"/>
<polygon points="464.7,540.8 462.4,555.0 473.4,545.7"/>
<polygon points="628.0,437.6 639.5,428.9 625.1,428.0"/>
<polygon points="613.2,489.1 624.3,479.9 609.9,479.6"/>
<polygon points="1184.3,336.9 1195.5,327.9 1181.1,327.4"/>
<polygon points="1211.3,493.4 1218.5,480.9 1204.9,485.7"/>
<polygon points="808.0,617.6 822.0,614.3 809.2,607.7"/>
<polygon points="1027.8,801.4 1040.0,809.0 1035.7,795.3"/>
<polygon points="603.0,705.2 617.3,706.8 607.5,696.3"/>
<polygon points="587.2,754.1 601.0,758.1 593.1,746.0"/>
<polygon points="818.2,744.8 828.0,734.3 813.7,735.9"/>
<polygon points="1398.6,775.4 1412.0,770.3 1398.4,765.4"/>
<polygon points="628.5,955.0 642.0,960.0 635.1,947.4"/>
<polygon points="973.8,1138.3 988.0,1136.0 975.7,1128.5"/>
<polygon points="819.1,918.7 830.0,909.3 815.6,909.3"/>
<polygon points="1401.2,789.4 1412.7,780.7 1398.3,779.9"/>
<polygon points="1756.5,978.3 1770.0,973.3 1756.5,968.3"/>
<polygon points="808.6,1034.7 823.0,1035.0 812.3,1025.4"/>
<polygon points="801.7,437.7 813.8,429.9 799.5,428.0"/>
<polygon points="1183.3,385.3 1195.0,377.0 1180.7,375.7"/>
<polygon points="991.1,280.6 1004.3,274.9 990.5,270.6"/>
<polygon points="1175.1,326.3 1187.9,319.8 1173.9,316.4"/>
<polygon points="1034.6,144.0 1037.0,129.8 1025.9,139.0"/>
<polygon points="1023.4,292.1 1030.5,279.6 1017.0,284.5"/>
<polygon points="1152.5,380.7 1165.2,373.9 1151.1,370.8"/>
<polygon points="1186.2,464.6 1200.3,461.5 1187.6,454.7"/>
<polygon points="1403.0,754.8 1417.0,758.0 1408.4,746.4"/>
<polygon points="1037.6,1124.7 1045.0,1137.0 1047.4,1122.8"/>
<polygon points="1214.5,292.5 1226.4,300.6 1222.6,286.7"/>
<polygon points="1785.4,336.5 1795.6,346.7 1794.5,332.3"/>
<polygon points="1573.9,222.8 1588.0,220.0 1575.5,212.9"/>
<polygon points="1166.2,350.1 1180.3,352.9 1171.4,341.6"/>
<polygon points="1206.6,450.1 1220.4,454.2 1212.6,442.1"/>
<polygon points="1373.2,285.2 1385.0,277.0 1370.7,275.6"/>
<polygon points="1377.5,319.3 1391.0,314.3 1377.5,309.3"/>
<polygon points="1371.7,353.5 1386.0,352.3 1374.4,343.8"/>
<polygon points="1735.9,559.4 1749.1,553.7 1735.3,549.5"/>
<polygon points="1906.3,1257.1 1918.3,1265.0 1914.3,1251.2"/>
<polygon points="1311.3,334.5 1299.0,327.0 1303.4,340.7"/>
<polygon points="1405.2,749.7 1417.0,758.0 1413.4,744.0"/>
<polygon points="1404.9,750.2 1417.0,758.0 1412.9,744.2"/>
<polygon points="1404.1,751.5 1417.0,758.0 1411.5,744.7"/>
<polygon points="1748.7,375.4 1761.0,368.0 1746.8,365.6"/>
<polygon points="1400.0,782.2 1412.7,775.5 1398.7,772.3"/>
<polygon points="1224.5,495.2 1226.1,480.9 1215.6,490.7"/>
<polygon points="1397.6,763.4 1412.0,762.7 1400.6,753.9"/>
<polygon points="1398.1,769.8 1412.0,766.0 1399.0,759.8"/>
<polygon points="1006.1,843.8 1016.7,834.0 1002.3,834.5"/>
<polygon points="1016.0,1133.7 1030.0,1137.0 1021.5,1125.4"/>
<polygon points="1422.4,798.4 1426.0,784.5 1414.2,792.7"/>
<polygon points="1757.1,986.8 1770.0,980.3 1756.0,976.8"/>
<polygon points="1417.1,797.5 1423.3,784.5 1410.1,790.3"/>
<polygon points="1188.6,1047.9 1198.0,1037.0 1183.8,1039.1"/>
<polygon points="2117.3,1176.5 2131.7,1177.0 2121.1,1167.2"/>
<polygon points="1357.3,1136.1 1370.5,1130.3 1356.7,1126.1"/>
<polygon points="1358.7,1176.1 1372.5,1172.0 1359.4,1166.1"/>
<polygon points="1190.6,1213.4 1205.0,1214.0 1194.5,1204.1"/>
<polygon points="1171.1,1261.4 1185.0,1265.0 1176.8,1253.2"/>
<polygon points="1208.9,1359.4 1221.7,1366.0 1216.3,1352.7"/>
<polygon points="1364.9,1446.0 1378.5,1441.3 1365.1,1436.0"/>
<polygon points="2101.0,1343.8 2112.9,1335.7 2098.6,1334.0"/>
<polygon points="2120.0,1424.9 2130.0,1414.5 2115.7,1415.9"/>
<polygon points="1431.2,798.7 1429.0,784.5 1421.4,796.7"/>
<polygon points="1374.1,1152.8 1380.7,1140.0 1367.4,1145.5"/>
<polygon points="1383.2,1200.2 1393.1,1189.7 1378.8,1191.2"/>
<polygon points="2095.3,1195.0 2108.5,1189.3 2094.8,1185.0"/>
<polygon points="2072.7,1329.8 2086.0,1324.3 2072.3,1319.8"/>
<polygon points="2088.9,1405.0 2102.5,1400.3 2089.1,1395.0"/>
<polygon points="1370.7,1417.9 1385.0,1416.5 1373.2,1408.2"/>
<polygon points="1575.7,243.4 1588.0,236.0 1573.8,233.6"/>
<polygon points="1746.7,349.4 1761.0,348.0 1749.2,339.7"/>
<polygon points="1568.1,498.2 1581.0,504.5 1575.3,491.3"/>
<polygon points="1769.5,525.1 1783.0,530.0 1776.0,517.4"/>
<polygon points="1776.6,385.9 1783.0,373.0 1769.7,378.6"/>
<polygon points="1736.0,537.6 1750.0,534.3 1737.2,527.7"/>
<polygon points="1786.7,949.5 1796.0,960.5 1796.2,946.1"/>
<polygon points="1963.2,1200.8 1969.0,1214.0 1973.2,1200.2"/>
<polygon points="1473.3,749.6 1462.0,758.5 1476.4,759.2"/>
<polygon points="1591.1,740.9 1602.9,732.6 1588.6,731.2"/>
<polygon points="1475.1,758.1 1462.0,764.0 1475.8,768.0"/>
<polygon points="1560.0,784.3 1573.5,779.2 1560.0,774.3"/>
<polygon points="2096.0,1208.4 2108.5,1201.3 2094.4,1198.6"/>
<polygon points="2080.8,1254.7 2095.0,1252.5 2082.8,1244.9"/>
<polygon points="2106.0,1308.4 2120.3,1309.6 2110.2,1299.3"/>
<polygon points="2114.9,1384.4 2128.7,1388.6 2121.0,1376.4"/>
<polygon points="2113.7,1214.5 2123.3,1203.7 2109.0,1205.6"/>
<polygon points="2077.3,1275.5 2090.5,1269.7 2076.7,1265.5"/>
<polygon points="2089.0,1311.7 2103.3,1310.0 2091.4,1301.9"/>
<polygon points="2116.1,1385.2 2130.0,1389.0 2121.9,1377.1"/>
<polygon points="373.0,1407.7 386.5,1402.7 373.0,1397.7"/>
<polygon points="410.6,1464.5 425.0,1465.0 414.4,1455.3"/>
<polygon points="577.5,1429.9 591.7,1427.5 579.4,1420.1"/>
<polygon points="579.3,1460.4 591.7,1453.0 577.5,1450.6"/>
<polygon points="895.4,868.9 895.2,883.3 904.7,872.5"/>
<polygon points="487.5,1375.7 487.4,1390.1 496.9,1379.3"/>
<polygon points="487.5,1450.4 487.4,1464.8 496.9,1454.0"/>
<polygon points="1472.0,747.7 1462.0,758.0 1476.3,756.7"/>
</g>
<rect x="5.5" y="928.5" width="149.0" height="39.5" fill="#bfbfbf" stroke="#000" stroke-width="1.33"/>
<rect x="213.5" y="910.5" width="114.0" height="25.0" fill="#fff" stroke="#000" stroke-width="1.33"/>
<rect x="203.5" y="960.5" width="134.5" height="25.5" fill="#fff" stroke="#000" stroke-width="1.33"/>
<rect x="218.0" y="1390.5" width="105.0" height="25.0" fill="#fff" stroke="#000" stroke-width="1.33"/>
<rect x="386.5" y="1390.5" width="144.0" height="25.0" fill="#fff" stroke="#000" stroke-width="1.33"/>
<rect x="413.0" y="1465.0" width="91.0" height="25.0" fill="#fff" stroke="#000" stroke-width="1.33"/>
<rect x="579.0" y="1427.5" width="164.0" height="25.5" fill="#fff" stroke="#ff0000" stroke-width="1.33"/>
<rect x="409.5" y="555.5" width="98.0" height="25.5" fill="#fff" stroke="#000" stroke-width="1.33"/>
<rect x="600.0" y="200.5" width="122.5" height="25.5" fill="#fff" stroke="#ff0000" stroke-width="1.33"/>
<rect x="614.5" y="403.5" width="93.5" height="25.5" fill="#fff" stroke="#000" stroke-width="1.33"/>
<rect x="606.5" y="454.0" width="109.5" height="25.5" fill="#fff" stroke="#ff0000" stroke-width="1.33"/>
<rect x="596.0" y="707.5" width="130.0" height="25.5" fill="#fff" stroke="#ff0000" stroke-width="1.33"/>
<rect x="598.5" y="758.0" width="125.0" height="25.5" fill="#fff" stroke="#ff0000" stroke-width="1.33"/>
<rect x="615.5" y="960.5" width="90.5" height="25.5" fill="#fff" stroke="#000" stroke-width="1.33"/>
<rect x="1005.0" y="100.0" width="91.0" height="25.0" fill="#fff" stroke="#ff0000" stroke-width="1.33"/>
<rect x="1004.5" y="251.5" width="92.0" height="25.5" fill="#fff" stroke="#ff0000" stroke-width="1.33"/>
<rect x="809.5" y="403.5" width="113.5" height="25.5" fill="#fff" stroke="#ff0000" stroke-width="1.33"/>
<rect x="822.0" y="606.0" width="89.0" height="25.5" fill="#fff" stroke="#000" stroke-width="1.33"/>
<rect x="792.0" y="708.0" width="149.0" height="25.0" fill="#fff" stroke="#000" stroke-width="1.33"/>
<rect x="994.5" y="809.0" width="111.5" height="25.5" fill="#fff" stroke="#ff0000" stroke-width="1.33"/>
<rect x="797.5" y="883.0" width="138.5" height="25.5" fill="#fff" stroke="#ff0000" stroke-width="1.33"/>
<rect x="809.5" y="1035.5" width="113.5" height="25.5" fill="#fff" stroke="#ff0000" stroke-width="1.33"/>
<rect x="989.0" y="1137.0" width="123.0" height="25.5" fill="#fff" stroke="#ff0000" stroke-width="1.33"/>
<rect x="1188.0" y="302.0" width="101.0" height="25.5" fill="#fff" stroke="#000" stroke-width="1.33"/>
<rect x="1166.0" y="353.0" width="145.5" height="25.0" fill="#fff" stroke="#ff0000" stroke-width="1.33"/>
<rect x="1201.0" y="454.5" width="75.5" height="25.0" fill="#fff" stroke="#ff0000" stroke-width="1.33"/>
<rect x="1175.0" y="1011.0" width="126.5" height="25.5" fill="#fff" stroke="#ff0000" stroke-width="1.33"/>
<rect x="1195.0" y="1214.0" width="87.0" height="25.5" fill="#fff" stroke="#000" stroke-width="1.33"/>
<rect x="1159.5" y="1265.0" width="158.0" height="25.5" fill="#fff" stroke="#ff0000" stroke-width="1.33"/>
<rect x="1183.0" y="1366.0" width="111.0" height="25.0" fill="#fff" stroke="#ff0000" stroke-width="1.33"/>
<rect x="1365.0" y="251.5" width="144.0" height="25.5" fill="#fff" stroke="#000" stroke-width="1.33"/>
<rect x="1392.0" y="302.0" width="90.0" height="25.5" fill="#fff" stroke="#000" stroke-width="1.33"/>
<rect x="1380.0" y="353.0" width="114.0" height="25.0" fill="#fff" stroke="#000" stroke-width="1.33"/>
<rect x="1412.5" y="758.0" width="48.5" height="25.5" fill="#fff" stroke="#000" stroke-width="1.33"/>
<rect x="1370.5" y="1112.5" width="133.5" height="25.5" fill="#fff" stroke="#ff0000" stroke-width="1.33"/>
<rect x="1372.5" y="1163.5" width="129.5" height="25.5" fill="#fff" stroke="#ff0000" stroke-width="1.33"/>
<rect x="1378.5" y="1416.5" width="117.5" height="25.5" fill="#fff" stroke="#ff0000" stroke-width="1.33"/>
<rect x="1588.0" y="214.0" width="82.0" height="25.5" fill="#fff" stroke="#ff0000" stroke-width="1.33"/>
<rect x="1557.5" y="504.5" width="143.5" height="25.5" fill="#fff" stroke="#000" stroke-width="1.33"/>
<rect x="1569.5" y="707.5" width="119.0" height="25.5" fill="#fff" stroke="#ff0000" stroke-width="1.33"/>
<rect x="1574.0" y="758.0" width="110.5" height="25.5" fill="#fff" stroke="#ff0000" stroke-width="1.33"/>
<rect x="1761.0" y="347.0" width="83.0" height="25.5" fill="#fff" stroke="#000" stroke-width="1.33"/>
<rect x="1750.0" y="530.0" width="105.0" height="25.5" fill="#fff" stroke="#000" stroke-width="1.33"/>
<rect x="1770.5" y="960.5" width="63.5" height="25.5" fill="#fff" stroke="#000" stroke-width="1.33"/>
<rect x="1916.5" y="1214.0" width="107.5" height="25.5" fill="#fff" stroke="#000" stroke-width="1.33"/>
<rect x="1904.5" y="1265.0" width="132.0" height="25.5" fill="#fff" stroke="#000" stroke-width="1.33"/>
<rect x="2108.5" y="1177.0" width="97.5" height="25.5" fill="#fff" stroke="#ff0000" stroke-width="1.33"/>
<rect x="2090.5" y="1253.0" width="133.5" height="25.5" fill="#fff" stroke="#ff0000" stroke-width="1.33"/>
<rect x="2086.0" y="1310.0" width="142.5" height="25.5" fill="#fff" stroke="#ff0000" stroke-width="1.33"/>
<rect x="2102.5" y="1389.0" width="109.5" height="25.5" fill="#fff" stroke="#000" stroke-width="1.33"/>
<g opacity="0.995">
<text transform="translate(80.00,943.75) scale(0.962,1)" text-anchor="middle">armour_improver_type</text>
<text transform="translate(80.00,958.95) scale(0.962,1)" text-anchor="middle">_apply</text>
<text transform="translate(270.50,926.10) scale(0.962,1)" text-anchor="middle">improve_armour</text>
<text transform="translate(270.75,976.35) scale(0.962,1)" text-anchor="middle">find_marked_object</text>
<text transform="translate(270.50,1406.10) scale(0.962,1)" text-anchor="middle">get_map_flags</text>
<text transform="translate(458.50,1406.10) scale(0.962,1)" text-anchor="middle">get_map_from_coord</text>
<text transform="translate(458.50,1480.60) scale(0.962,1)" text-anchor="middle">out_of_map</text>
<text transform="translate(661.00,1443.35) scale(0.962,1)" text-anchor="middle">load_and_link_tiled_map</text>
<text transform="translate(458.50,571.35) scale(0.962,1)" text-anchor="middle">apply_special</text>
<text transform="translate(661.25,216.35) scale(0.962,1)" text-anchor="middle">can_apply_object</text>
<text transform="translate(661.25,419.35) scale(0.962,1)" text-anchor="middle">change_skill</text>
<text transform="translate(661.25,469.85) scale(0.962,1)" text-anchor="middle">unapply_for_ob</text>
<text transform="translate(661.00,723.35) scale(0.962,1)" text-anchor="middle">find_skill_by_name</text>
<text transform="translate(661.00,773.85) scale(0.962,1)" text-anchor="middle">get_ob_key_value</text>
<text transform="translate(660.75,976.35) scale(0.962,1)" text-anchor="middle">get_split_ob</text>
<text transform="translate(1050.50,115.60) scale(0.962,1)" text-anchor="middle">change_abil</text>
<text transform="translate(1050.50,267.35) scale(0.962,1)" text-anchor="middle">query_name</text>
<text transform="translate(866.25,419.35) scale(0.962,1)" text-anchor="middle">unapply_special</text>
<text transform="translate(866.50,621.85) scale(0.962,1)" text-anchor="middle">random_roll</text>
<text transform="translate(866.50,723.60) scale(0.962,1)" text-anchor="middle">check_weapon_power</text>
<text transform="translate(1050.25,824.85) scale(0.962,1)" text-anchor="middle">insert_ob_in_ob</text>
<text transform="translate(866.75,898.85) scale(0.962,1)" text-anchor="middle">object_create_clone</text>
<text transform="translate(866.25,1051.35) scale(0.962,1)" text-anchor="middle">decrease_ob_nr</text>
<text transform="translate(1050.50,1152.85) scale(0.962,1)" text-anchor="middle">esrv_update_item</text>
<text transform="translate(1238.50,317.85) scale(0.962,1)" text-anchor="middle">draw_ext_info</text>
<text transform="translate(1238.75,368.60) scale(0.962,1)" text-anchor="middle">draw_ext_info_format</text>
<text transform="translate(1238.75,470.10) scale(0.962,1)" text-anchor="middle">fix_object</text>
<text transform="translate(1238.25,1026.85) scale(0.962,1)" text-anchor="middle">query_base_name</text>
<text transform="translate(1238.50,1229.85) scale(0.962,1)" text-anchor="middle">query_flags</text>
<text transform="translate(1238.50,1280.85) scale(0.962,1)" text-anchor="middle">SockList_AddLen8Data</text>
<text transform="translate(1238.50,1381.60) scale(0.962,1)" text-anchor="middle">esrv_send_face</text>
<text transform="translate(1437.00,267.35) scale(0.962,1)" text-anchor="middle">check_output_buffers</text>
<text transform="translate(1437.00,317.85) scale(0.962,1)" text-anchor="middle">strdup_local</text>
<text transform="translate(1437.00,368.60) scale(0.962,1)" text-anchor="middle">strip_media_tag</text>
<text transform="translate(1436.75,773.85) scale(0.962,1)" text-anchor="middle">LOG</text>
<text transform="translate(1437.25,1128.35) scale(0.962,1)" text-anchor="middle">SockList_AddShort</text>
<text transform="translate(1437.25,1179.35) scale(0.962,1)" text-anchor="middle">SockList_AddChar</text>
<text transform="translate(1437.25,1432.35) scale(0.962,1)" text-anchor="middle">SockList_AddInt</text>
<text transform="translate(1629.00,229.85) scale(0.962,1)" text-anchor="middle">add_string</text>
<text transform="translate(1629.25,520.35) scale(0.962,1)" text-anchor="middle">flush_output_element</text>
<text transform="translate(1629.00,723.35) scale(0.962,1)" text-anchor="middle">emergency_save</text>
<text transform="translate(1629.25,773.85) scale(0.962,1)" text-anchor="middle">clean_tmp_files</text>
<text transform="translate(1802.50,362.85) scale(0.962,1)" text-anchor="middle">free_string</text>
<text transform="translate(1802.50,545.85) scale(0.962,1)" text-anchor="middle">print_message</text>
<text transform="translate(1802.25,976.35) scale(0.962,1)" text-anchor="middle">snprintf</text>
<text transform="translate(1970.25,1229.85) scale(0.962,1)" text-anchor="middle">esrv_print_msg</text>
<text transform="translate(1970.50,1280.85) scale(0.962,1)" text-anchor="middle">esrv_print_ext_msg</text>
<text transform="translate(2157.25,1192.85) scale(0.962,1)" text-anchor="middle">SockList_Init</text>
<text transform="translate(2157.25,1268.85) scale(0.962,1)" text-anchor="middle">SockList_AddPrintf</text>
<text transform="translate(2157.25,1325.85) scale(0.962,1)" text-anchor="middle">Send_With_Handling</text>
<text transform="translate(2157.25,1404.85) scale(0.962,1)" text-anchor="middle">SockList_Term</text>
</g>
</svg></body></html>
